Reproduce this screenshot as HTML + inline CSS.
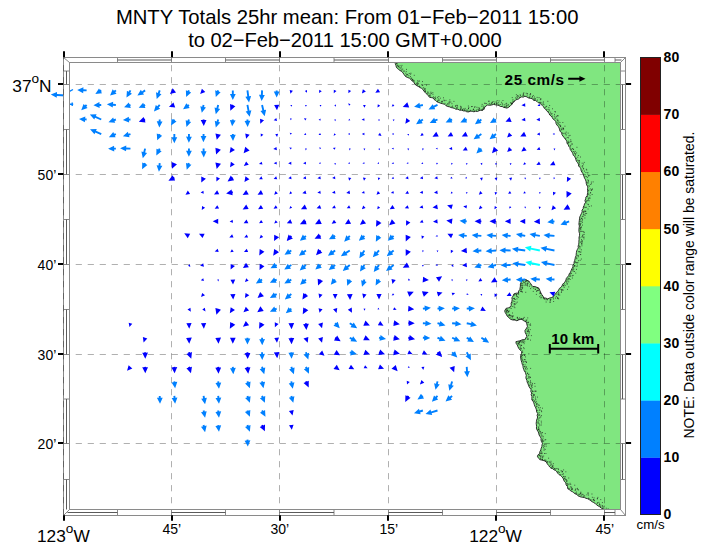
<!DOCTYPE html>
<html><head><meta charset="utf-8"><title>MNTY Totals</title>
<style>html,body{margin:0;padding:0;background:#fff;}body{width:703px;height:548px;overflow:hidden;}svg{display:block;}text{font-family:"Liberation Sans",sans-serif;fill:#000;}</style></head><body>
<svg width="703" height="548" viewBox="0 0 703 548">
<rect x="0" y="0" width="703" height="548" fill="#fff"/>
<defs><clipPath id="mapclip"><rect x="69.5" y="62.5" width="551.0" height="447.0"/></clipPath></defs>
<g clip-path="url(#mapclip)">
<path d="M394.6,62.0L395.3,63.6L395.9,65.3L396.3,67.0L397.4,68.5L398.7,69.5L400.0,70.5L401.7,71.5L403.0,72.9L403.9,74.3L404.8,75.7L406.1,76.8L407.8,77.6L409.5,78.2L410.9,79.5L412.2,81.0L413.9,82.1L414.8,84.0L416.3,85.4L418.1,86.3L419.7,87.4L421.5,88.3L423.1,89.6L424.0,91.4L425.5,92.8L427.0,94.2L428.3,95.7L429.5,97.3L431.2,97.6L432.9,97.8L434.0,99.4L435.6,100.5L436.9,101.8L438.9,102.5L440.8,103.3L442.8,103.8L444.6,104.3L446.1,105.8L447.9,106.5L449.7,106.9L451.2,107.6L452.9,107.9L454.4,108.4L455.8,109.2L457.8,109.2L459.7,110.2L461.7,110.2L463.4,110.9L465.2,110.9L466.8,111.8L468.7,111.9L470.4,111.2L472.1,111.2L473.9,111.8L475.6,111.2L477.4,111.5L479.1,110.7L480.8,110.2L482.6,110.5L483.8,109.3L484.5,107.7L485.8,106.1L487.6,105.0L489.6,105.3L491.6,105.0L493.6,104.4L495.4,104.8L497.2,105.1L498.9,105.5L500.5,106.5L502.2,106.5L503.7,107.4L505.3,107.7L506.9,108.1L508.8,107.2L510.4,105.7L511.8,104.5L512.7,102.7L514.2,101.6L515.5,100.3L516.9,99.4L518.7,98.9L520.0,97.6L521.5,96.9L523.3,97.1L524.9,96.2L526.9,96.9L528.7,98.0L530.8,98.4L532.5,98.8L533.6,100.4L535.4,100.5L536.9,101.4L538.2,102.7L539.8,103.2L541.1,104.4L542.4,105.5L543.5,106.7L544.3,108.3L545.7,109.3L546.6,110.7L547.8,111.9L549.0,113.3L549.7,115.0L551.2,116.1L552.3,117.6L553.2,119.2L554.8,120.2L555.8,121.7L556.1,123.6L557.0,125.1L558.3,126.5L559.2,128.1L559.6,129.8L560.2,131.5L561.7,132.6L561.9,134.5L562.9,136.0L564.0,137.4L565.0,138.8L566.2,140.1L566.9,141.7L567.0,143.5L568.4,144.7L568.8,146.4L569.9,147.6L570.2,149.4L571.1,150.8L572.1,152.1L572.8,153.6L573.3,155.3L574.7,156.5L575.4,158.1L575.9,159.7L576.5,161.4L577.6,162.7L578.5,164.2L578.6,166.0L579.9,167.3L580.8,168.7L581.1,170.5L581.8,172.0L582.8,173.4L583.5,175.0L584.0,176.7L584.6,178.3L585.6,179.9L586.1,181.7L586.3,183.6L586.9,185.4L587.9,186.9L587.6,188.6L587.5,190.4L587.8,192.2L587.4,193.9L587.2,195.7L585.9,197.1L585.7,198.8L585.0,200.5L585.5,202.4L584.5,203.9L584.1,205.5L583.3,207.0L583.2,208.7L582.0,210.1L582.2,211.9L581.4,213.5L580.6,215.2L579.8,216.9L579.5,218.8L579.3,220.6L579.1,222.4L578.9,224.2L579.4,226.0L579.1,227.8L578.9,229.8L579.0,231.8L579.6,233.7L579.5,235.7L579.0,237.5L579.1,239.3L578.9,241.1L578.9,242.9L578.6,244.7L578.1,246.2L578.3,247.9L577.4,249.4L576.7,250.9L576.4,252.5L576.2,254.1L576.1,255.7L575.4,257.2L575.1,258.8L574.7,260.4L574.1,262.0L574.0,263.8L572.9,265.2L573.0,267.0L572.0,268.5L571.2,270.3L570.6,272.1L569.3,273.7L568.7,275.5L567.6,276.9L566.4,278.3L565.9,280.1L565.1,281.8L563.8,283.0L562.6,284.3L562.0,286.0L561.0,287.4L559.4,288.4L558.7,289.9L557.8,291.4L556.3,292.5L555.4,294.3L553.9,295.4L552.9,297.0L551.2,297.7L549.3,298.1L547.7,298.9L545.9,298.1L543.8,297.9L542.9,296.0L541.6,294.3L540.7,292.5L540.0,290.9L539.4,289.2L538.4,287.8L536.6,287.2L534.8,286.5L532.9,286.5L531.6,285.2L530.9,283.7L529.7,282.5L528.8,281.1L527.1,280.3L525.4,279.5L523.7,280.0L521.9,280.6L521.1,282.3L520.4,284.1L520.4,286.1L520.1,287.9L519.8,289.7L518.5,291.1L518.6,293.0L516.1,293.2L513.9,293.9L513.1,296.0L511.9,297.8L512.2,299.8L511.8,301.6L511.1,303.3L511.3,305.2L510.4,306.9L508.3,307.9L506.0,308.4L504.7,310.9L505.2,312.5L506.2,314.1L507.0,315.8L508.2,317.1L509.5,318.4L510.9,319.4L512.9,320.0L515.0,320.0L516.9,320.8L518.5,320.0L520.1,319.4L521.9,319.4L523.8,320.8L526.0,321.7L526.6,323.4L527.1,325.0L527.4,326.7L526.2,328.7L524.9,330.7L525.3,332.8L526.3,334.7L526.8,336.7L525.6,338.0L525.0,339.8L523.1,339.6L521.5,340.1L519.9,340.8L517.9,341.2L515.9,341.7L516.2,343.5L517.3,345.0L517.9,346.7L518.9,348.6L520.3,350.2L521.8,351.7L521.5,353.4L520.8,355.2L520.6,357.0L520.8,358.8L521.2,360.6L521.8,362.4L522.2,364.2L523.0,365.9L523.1,367.6L523.7,369.3L524.3,370.9L525.3,372.3L525.8,373.9L526.3,375.5L525.9,377.2L526.1,378.7L526.9,380.3L527.1,381.9L527.8,383.5L528.5,385.1L529.1,386.8L530.1,388.2L531.1,389.7L530.8,391.5L531.7,393.1L531.1,394.8L531.9,396.4L531.9,398.1L531.8,399.8L533.0,401.2L533.8,402.8L534.3,404.6L534.9,406.3L535.8,407.9L536.4,409.8L536.7,411.9L537.8,413.7L537.1,415.2L537.6,417.0L537.2,418.6L536.6,420.1L536.4,421.7L536.2,423.3L536.4,424.9L536.6,426.5L536.4,428.1L536.9,429.7L537.9,431.3L538.7,433.0L539.1,435.0L540.1,436.6L541.1,438.1L541.0,440.0L541.5,441.7L542.5,443.2L542.0,444.9L541.9,446.6L541.2,448.2L540.8,449.9L539.9,451.6L539.6,453.6L537.9,454.9L537.5,456.9L538.7,458.1L539.7,459.6L541.4,460.0L543.1,460.4L544.8,461.0L546.4,462.1L547.3,463.9L548.6,465.3L549.7,467.0L551.0,468.2L552.7,468.7L554.0,469.8L555.6,470.5L556.8,471.8L557.8,473.3L559.0,474.6L560.6,475.5L561.9,476.7L563.0,478.1L563.7,479.9L564.4,481.5L565.8,482.7L566.1,484.9L567.5,486.6L567.8,488.8L569.3,489.5L570.6,490.9L572.3,491.6L573.7,492.7L575.1,493.8L576.9,494.4L578.1,495.9L579.8,496.6L581.3,497.1L582.9,497.3L584.5,497.6L586.0,498.3L587.6,498.7L589.2,499.6L590.6,500.6L592.1,501.7L593.7,502.6L595.3,503.5L596.5,504.8L598.0,505.8L599.6,506.7L601.4,508.2L603.6,509.1L604.9,511.1L621,511L621,62Z" fill="#80e680" stroke="none"/>
<path d="M394.6,62.0L395.3,63.6L395.9,65.3L396.3,67.0L397.4,68.5L398.7,69.5L400.0,70.5L401.7,71.5L403.0,72.9L403.9,74.3L404.8,75.7L406.1,76.8L407.8,77.6L409.5,78.2L410.9,79.5L412.2,81.0L413.9,82.1L414.8,84.0L416.3,85.4L418.1,86.3L419.7,87.4L421.5,88.3L423.1,89.6L424.0,91.4L425.5,92.8L427.0,94.2L428.3,95.7L429.5,97.3L431.2,97.6L432.9,97.8L434.0,99.4L435.6,100.5L436.9,101.8L438.9,102.5L440.8,103.3L442.8,103.8L444.6,104.3L446.1,105.8L447.9,106.5L449.7,106.9L451.2,107.6L452.9,107.9L454.4,108.4L455.8,109.2L457.8,109.2L459.7,110.2L461.7,110.2L463.4,110.9L465.2,110.9L466.8,111.8L468.7,111.9L470.4,111.2L472.1,111.2L473.9,111.8L475.6,111.2L477.4,111.5L479.1,110.7L480.8,110.2L482.6,110.5L483.8,109.3L484.5,107.7L485.8,106.1L487.6,105.0L489.6,105.3L491.6,105.0L493.6,104.4L495.4,104.8L497.2,105.1L498.9,105.5L500.5,106.5L502.2,106.5L503.7,107.4L505.3,107.7L506.9,108.1L508.8,107.2L510.4,105.7L511.8,104.5L512.7,102.7L514.2,101.6L515.5,100.3L516.9,99.4L518.7,98.9L520.0,97.6L521.5,96.9L523.3,97.1L524.9,96.2L526.9,96.9L528.7,98.0L530.8,98.4L532.5,98.8L533.6,100.4L535.4,100.5L536.9,101.4L538.2,102.7L539.8,103.2L541.1,104.4L542.4,105.5L543.5,106.7L544.3,108.3L545.7,109.3L546.6,110.7L547.8,111.9L549.0,113.3L549.7,115.0L551.2,116.1L552.3,117.6L553.2,119.2L554.8,120.2L555.8,121.7L556.1,123.6L557.0,125.1L558.3,126.5L559.2,128.1L559.6,129.8L560.2,131.5L561.7,132.6L561.9,134.5L562.9,136.0L564.0,137.4L565.0,138.8L566.2,140.1L566.9,141.7L567.0,143.5L568.4,144.7L568.8,146.4L569.9,147.6L570.2,149.4L571.1,150.8L572.1,152.1L572.8,153.6L573.3,155.3L574.7,156.5L575.4,158.1L575.9,159.7L576.5,161.4L577.6,162.7L578.5,164.2L578.6,166.0L579.9,167.3L580.8,168.7L581.1,170.5L581.8,172.0L582.8,173.4L583.5,175.0L584.0,176.7L584.6,178.3L585.6,179.9L586.1,181.7L586.3,183.6L586.9,185.4L587.9,186.9L587.6,188.6L587.5,190.4L587.8,192.2L587.4,193.9L587.2,195.7L585.9,197.1L585.7,198.8L585.0,200.5L585.5,202.4L584.5,203.9L584.1,205.5L583.3,207.0L583.2,208.7L582.0,210.1L582.2,211.9L581.4,213.5L580.6,215.2L579.8,216.9L579.5,218.8L579.3,220.6L579.1,222.4L578.9,224.2L579.4,226.0L579.1,227.8L578.9,229.8L579.0,231.8L579.6,233.7L579.5,235.7L579.0,237.5L579.1,239.3L578.9,241.1L578.9,242.9L578.6,244.7L578.1,246.2L578.3,247.9L577.4,249.4L576.7,250.9L576.4,252.5L576.2,254.1L576.1,255.7L575.4,257.2L575.1,258.8L574.7,260.4L574.1,262.0L574.0,263.8L572.9,265.2L573.0,267.0L572.0,268.5L571.2,270.3L570.6,272.1L569.3,273.7L568.7,275.5L567.6,276.9L566.4,278.3L565.9,280.1L565.1,281.8L563.8,283.0L562.6,284.3L562.0,286.0L561.0,287.4L559.4,288.4L558.7,289.9L557.8,291.4L556.3,292.5L555.4,294.3L553.9,295.4L552.9,297.0L551.2,297.7L549.3,298.1L547.7,298.9L545.9,298.1L543.8,297.9L542.9,296.0L541.6,294.3L540.7,292.5L540.0,290.9L539.4,289.2L538.4,287.8L536.6,287.2L534.8,286.5L532.9,286.5L531.6,285.2L530.9,283.7L529.7,282.5L528.8,281.1L527.1,280.3L525.4,279.5L523.7,280.0L521.9,280.6L521.1,282.3L520.4,284.1L520.4,286.1L520.1,287.9L519.8,289.7L518.5,291.1L518.6,293.0L516.1,293.2L513.9,293.9L513.1,296.0L511.9,297.8L512.2,299.8L511.8,301.6L511.1,303.3L511.3,305.2L510.4,306.9L508.3,307.9L506.0,308.4L504.7,310.9L505.2,312.5L506.2,314.1L507.0,315.8L508.2,317.1L509.5,318.4L510.9,319.4L512.9,320.0L515.0,320.0L516.9,320.8L518.5,320.0L520.1,319.4L521.9,319.4L523.8,320.8L526.0,321.7L526.6,323.4L527.1,325.0L527.4,326.7L526.2,328.7L524.9,330.7L525.3,332.8L526.3,334.7L526.8,336.7L525.6,338.0L525.0,339.8L523.1,339.6L521.5,340.1L519.9,340.8L517.9,341.2L515.9,341.7L516.2,343.5L517.3,345.0L517.9,346.7L518.9,348.6L520.3,350.2L521.8,351.7L521.5,353.4L520.8,355.2L520.6,357.0L520.8,358.8L521.2,360.6L521.8,362.4L522.2,364.2L523.0,365.9L523.1,367.6L523.7,369.3L524.3,370.9L525.3,372.3L525.8,373.9L526.3,375.5L525.9,377.2L526.1,378.7L526.9,380.3L527.1,381.9L527.8,383.5L528.5,385.1L529.1,386.8L530.1,388.2L531.1,389.7L530.8,391.5L531.7,393.1L531.1,394.8L531.9,396.4L531.9,398.1L531.8,399.8L533.0,401.2L533.8,402.8L534.3,404.6L534.9,406.3L535.8,407.9L536.4,409.8L536.7,411.9L537.8,413.7L537.1,415.2L537.6,417.0L537.2,418.6L536.6,420.1L536.4,421.7L536.2,423.3L536.4,424.9L536.6,426.5L536.4,428.1L536.9,429.7L537.9,431.3L538.7,433.0L539.1,435.0L540.1,436.6L541.1,438.1L541.0,440.0L541.5,441.7L542.5,443.2L542.0,444.9L541.9,446.6L541.2,448.2L540.8,449.9L539.9,451.6L539.6,453.6L537.9,454.9L537.5,456.9L538.7,458.1L539.7,459.6L541.4,460.0L543.1,460.4L544.8,461.0L546.4,462.1L547.3,463.9L548.6,465.3L549.7,467.0L551.0,468.2L552.7,468.7L554.0,469.8L555.6,470.5L556.8,471.8L557.8,473.3L559.0,474.6L560.6,475.5L561.9,476.7L563.0,478.1L563.7,479.9L564.4,481.5L565.8,482.7L566.1,484.9L567.5,486.6L567.8,488.8L569.3,489.5L570.6,490.9L572.3,491.6L573.7,492.7L575.1,493.8L576.9,494.4L578.1,495.9L579.8,496.6L581.3,497.1L582.9,497.3L584.5,497.6L586.0,498.3L587.6,498.7L589.2,499.6L590.6,500.6L592.1,501.7L593.7,502.6L595.3,503.5L596.5,504.8L598.0,505.8L599.6,506.7L601.4,508.2L603.6,509.1L604.9,511.1" fill="none" stroke="#1a1a1a" stroke-width="0.9" stroke-linejoin="round"/>
<path d="M395.9,62.5h0.9M396.6,64.1h0.9M396.6,63.2h0.9M396.1,63.5h0.9M397.1,65.8h0.9M397.5,65.4h0.9M399.6,65.7h0.9M397.9,66.7h0.9M401.5,65.4h0.9M398.1,66.4h0.9M398.8,67.1h0.9M399.6,67.9h0.9M401.1,66.9h0.9M400.5,68.2h0.9M401.5,70.0h0.9M400.7,70.1h0.9M402.3,69.1h0.9M403.5,71.4h0.9M403.6,70.9h0.9M406.1,69.4h0.9M405.8,71.6h0.9M405.3,73.2h0.9M406.3,74.3h0.9M405.6,75.8h0.9M406.6,74.8h0.9M407.2,74.6h0.9M408.8,73.5h0.9M408.4,75.7h0.9M410.2,74.2h0.9M410.5,73.2h0.9M410.0,76.6h0.9M410.8,78.2h0.9M411.3,78.3h0.9M413.8,75.3h0.9M411.8,79.6h0.9M411.9,79.7h0.9M412.2,79.7h0.9M413.0,80.3h0.9M414.0,81.0h0.9M412.6,80.8h0.9M417.3,82.7h0.9M417.1,80.9h0.9M415.9,83.3h0.9M417.2,83.9h0.9M416.7,83.2h0.9M418.7,80.8h0.9M418.5,81.4h0.9M416.8,85.0h0.9M418.1,83.8h0.9M419.3,86.6h0.9M419.1,86.2h0.9M422.0,81.6h0.9M422.3,85.4h0.9M422.1,85.0h0.9M421.2,84.8h0.9M423.8,88.4h0.9M426.1,85.1h0.9M422.9,87.7h0.9M424.7,90.2h0.9M424.9,88.8h0.9M424.2,89.4h0.9M424.9,91.6h0.9M424.6,91.3h0.9M424.7,91.0h0.9M427.4,93.4h0.9M427.5,92.6h0.9M427.4,91.9h0.9M430.4,92.2h0.9M431.1,93.3h0.9M428.7,94.0h0.9M428.8,95.6h0.9M429.3,95.7h0.9M432.4,92.7h0.9M430.2,94.0h0.9M430.0,96.0h0.9M432.5,94.3h0.9M433.0,96.9h0.9M434.7,98.6h0.9M435.1,97.1h0.9M433.8,97.6h0.9M437.2,97.4h0.9M435.2,98.8h0.9M438.4,96.5h0.9M438.1,100.3h0.9M439.9,98.2h0.9M437.8,98.9h0.9M437.1,101.2h0.9M437.1,101.1h0.9M438.9,100.1h0.9M443.0,97.8h0.9M441.7,101.2h0.9M441.3,101.8h0.9M441.7,101.7h0.9M441.5,102.0h0.9M443.5,100.1h0.9M445.5,100.4h0.9M444.5,103.4h0.9M443.9,100.7h0.9M449.3,101.8h0.9M447.1,104.0h0.9M446.2,105.0h0.9M447.7,103.7h0.9M449.4,99.9h0.9M448.5,102.2h0.9M448.5,104.9h0.9M448.9,103.1h0.9M450.4,102.1h0.9M451.5,103.7h0.9M453.5,101.4h0.9M452.1,106.1h0.9M451.4,106.8h0.9M455.1,106.3h0.9M455.3,105.7h0.9M456.8,105.6h0.9M456.5,105.3h0.9M456.3,108.3h0.9M457.0,107.0h0.9M456.3,107.7h0.9M460.0,109.2h0.9M460.2,106.3h0.9M460.1,109.0h0.9M460.5,107.2h0.9M460.8,108.3h0.9M460.7,107.1h0.9M462.3,109.7h0.9M462.1,109.4h0.9M463.3,108.8h0.9M464.7,108.4h0.9M464.3,109.7h0.9M464.4,110.3h0.9M466.9,110.1h0.9M466.2,110.2h0.9M468.4,107.4h0.9M467.9,111.2h0.9M467.9,106.0h0.9M468.1,108.5h0.9M469.6,110.9h0.9M468.1,108.7h0.9M469.9,110.3h0.9M471.8,106.5h0.9M471.0,106.6h0.9M474.6,106.8h0.9M473.0,109.3h0.9M472.7,110.0h0.9M474.1,110.9h0.9M473.2,109.3h0.9M474.1,107.2h0.9M476.1,110.1h0.9M476.5,107.3h0.9M477.5,109.3h0.9M478.7,110.0h0.9M478.4,109.9h0.9M478.5,107.6h0.9M479.2,108.9h0.9M478.8,108.6h0.9M481.4,106.2h0.9M481.9,109.5h0.9M481.5,109.7h0.9M482.5,108.8h0.9M483.5,109.0h0.9M483.0,107.4h0.9M483.5,108.6h0.9M484.0,107.2h0.9M482.8,106.1h0.9M481.7,104.4h0.9M484.7,103.4h0.9M484.3,103.2h0.9M485.9,103.6h0.9M488.5,101.1h0.9M488.8,103.4h0.9M488.4,101.4h0.9M490.9,103.3h0.9M489.6,104.3h0.9M491.2,103.9h0.9M492.0,102.7h0.9M492.6,101.5h0.9M491.5,102.4h0.9M494.5,102.0h0.9M493.9,103.7h0.9M494.2,103.5h0.9M496.3,103.1h0.9M496.7,100.6h0.9M496.5,103.6h0.9M497.8,102.7h0.9M498.6,100.9h0.9M498.3,104.6h0.9M502.5,100.5h0.9M499.8,104.5h0.9M501.8,103.7h0.9M501.9,104.9h0.9M501.2,102.3h0.9M503.9,106.9h0.9M503.8,104.8h0.9M505.5,103.9h0.9M504.5,106.6h0.9M505.8,106.7h0.9M505.5,107.2h0.9M506.3,105.8h0.9M505.8,105.2h0.9M506.2,103.3h0.9M508.9,106.4h0.9M507.8,104.7h0.9M507.5,105.3h0.9M511.1,103.7h0.9M510.4,102.8h0.9M511.2,103.8h0.9M511.7,103.7h0.9M511.7,103.6h0.9M510.4,102.8h0.9M513.2,101.8h0.9M512.4,102.3h0.9M512.4,101.1h0.9M512.5,99.7h0.9M514.0,100.8h0.9M511.8,97.6h0.9M515.8,98.7h0.9M515.3,97.8h0.9M517.0,97.2h0.9M518.1,96.2h0.9M517.2,95.5h0.9M516.5,96.7h0.9M515.9,94.7h0.9M519.0,97.3h0.9M520.1,95.7h0.9M519.7,94.8h0.9M523.4,92.8h0.9M522.9,93.7h0.9M523.0,94.3h0.9M522.8,95.4h0.9M523.6,96.2h0.9M522.5,95.2h0.9M527.1,93.6h0.9M526.7,95.1h0.9M525.8,93.3h0.9M528.6,97.4h0.9M529.6,94.6h0.9M530.2,94.1h0.9M529.6,96.1h0.9M529.0,97.2h0.9M530.0,93.7h0.9M532.8,95.5h0.9M531.6,97.7h0.9M532.1,96.5h0.9M536.7,97.4h0.9M534.6,98.9h0.9M533.6,98.6h0.9M535.1,99.0h0.9M533.9,97.0h0.9M533.7,99.6h0.9M538.6,97.6h0.9M537.0,100.1h0.9M539.9,99.7h0.9M540.6,99.0h0.9M540.0,98.9h0.9M540.1,102.4h0.9M539.1,102.4h0.9M542.9,101.9h0.9M540.8,102.9h0.9M542.7,103.1h0.9M542.5,104.3h0.9M547.4,101.3h0.9M543.5,104.7h0.9M549.2,105.5h0.9M544.7,107.5h0.9M546.2,106.3h0.9M545.6,106.6h0.9M548.4,107.7h0.9M546.4,109.4h0.9M547.8,109.7h0.9M549.1,110.0h0.9M548.2,111.6h0.9M552.0,108.8h0.9M550.2,112.2h0.9M554.4,111.6h0.9M555.0,111.9h0.9M551.6,113.7h0.9M550.5,114.0h0.9M550.7,114.0h0.9M553.9,116.2h0.9M552.0,116.1h0.9M554.1,114.4h0.9M557.3,115.5h0.9M554.6,118.0h0.9M557.6,115.9h0.9M555.8,116.8h0.9M556.5,116.2h0.9M554.7,118.2h0.9M557.0,120.4h0.9M556.6,119.2h0.9M557.7,120.3h0.9M558.3,121.9h0.9M556.8,122.1h0.9M557.9,123.9h0.9M559.5,122.5h0.9M557.4,123.2h0.9M559.5,125.1h0.9M558.7,124.8h0.9M562.4,122.5h0.9M560.0,126.5h0.9M559.9,125.8h0.9M560.3,126.1h0.9M560.7,128.2h0.9M562.9,128.2h0.9M562.4,128.1h0.9M562.5,129.6h0.9M560.5,130.2h0.9M561.1,129.4h0.9M564.5,126.2h0.9M563.2,129.0h0.9M562.9,128.5h0.9M562.2,133.1h0.9M564.7,133.1h0.9M565.3,134.0h0.9M565.8,132.1h0.9M563.4,133.6h0.9M567.7,133.1h0.9M565.8,135.0h0.9M565.3,138.4h0.9M568.5,135.8h0.9M569.6,135.4h0.9M566.8,137.5h0.9M568.0,137.8h0.9M567.8,141.2h0.9M570.3,139.8h0.9M568.0,142.4h0.9M567.6,143.0h0.9M570.4,141.8h0.9M568.8,142.2h0.9M567.5,143.3h0.9M570.5,141.3h0.9M571.6,144.2h0.9M570.3,145.3h0.9M569.9,146.2h0.9M571.6,143.9h0.9M576.5,147.3h0.9M572.0,148.5h0.9M572.8,149.4h0.9M571.0,149.3h0.9M572.9,151.5h0.9M573.1,149.3h0.9M573.9,152.2h0.9M574.8,151.4h0.9M575.1,154.2h0.9M574.0,153.3h0.9M576.2,152.9h0.9M575.0,153.9h0.9M574.8,155.8h0.9M577.9,155.5h0.9M577.3,157.2h0.9M580.0,157.0h0.9M576.0,158.3h0.9M578.8,160.5h0.9M577.2,160.2h0.9M578.5,160.7h0.9M578.5,161.2h0.9M578.6,162.8h0.9M579.2,162.1h0.9M579.1,164.2h0.9M583.1,164.0h0.9M582.3,165.6h0.9M583.8,162.4h0.9M579.4,166.1h0.9M581.7,163.2h0.9M581.7,166.3h0.9M582.3,167.2h0.9M582.9,168.9h0.9M583.2,168.6h0.9M581.7,170.8h0.9M586.3,170.0h0.9M585.9,169.3h0.9M584.1,171.1h0.9M587.4,172.5h0.9M585.5,172.5h0.9M584.7,176.3h0.9M587.3,174.1h0.9M588.2,175.3h0.9M586.1,176.7h0.9M588.2,176.0h0.9M589.3,175.3h0.9M587.0,177.3h0.9M588.1,180.7h0.9M587.4,179.9h0.9M587.9,181.2h0.9M587.9,182.9h0.9M586.6,182.3h0.9M586.8,183.1h0.9M591.0,183.8h0.9M590.9,182.1h0.9M592.7,181.9h0.9M589.0,186.1h0.9M587.6,185.7h0.9M589.9,184.4h0.9M589.8,188.9h0.9M592.1,189.0h0.9M588.4,190.1h0.9M591.4,189.4h0.9M590.8,190.5h0.9M591.2,190.0h0.9M588.0,190.7h0.9M590.0,192.8h0.9M590.2,192.8h0.9M588.5,194.1h0.9M589.6,195.7h0.9M587.9,194.1h0.9M591.7,194.5h0.9M587.0,196.6h0.9M589.5,198.3h0.9M587.9,198.1h0.9M588.3,198.8h0.9M589.3,197.8h0.9M586.3,200.7h0.9M588.7,200.8h0.9M586.3,201.6h0.9M587.3,200.4h0.9M587.9,200.0h0.9M587.4,204.2h0.9M588.0,204.7h0.9M585.7,203.0h0.9M588.8,206.5h0.9M590.9,205.9h0.9M585.9,207.3h0.9M587.6,209.0h0.9M584.1,207.1h0.9M584.9,207.4h0.9M586.2,213.5h0.9M585.3,211.3h0.9M583.9,211.3h0.9M583.1,211.4h0.9M585.2,211.6h0.9M584.6,211.0h0.9M583.2,212.8h0.9M583.3,212.8h0.9M585.0,213.7h0.9M583.5,214.9h0.9M583.3,214.5h0.9M584.6,215.4h0.9M581.9,216.4h0.9M584.4,218.0h0.9M582.7,216.3h0.9M581.5,218.3h0.9M581.3,218.4h0.9M580.8,218.4h0.9M580.3,219.6h0.9M581.8,220.8h0.9M582.0,219.6h0.9M580.6,221.5h0.9M581.9,222.4h0.9M579.7,221.0h0.9M579.5,223.7h0.9M579.6,224.1h0.9M580.5,223.3h0.9M582.0,225.1h0.9M579.8,224.9h0.9M580.0,225.0h0.9M580.5,227.4h0.9M580.2,227.3h0.9M581.1,227.0h0.9M579.5,228.4h0.9M580.5,229.0h0.9M580.0,228.9h0.9M581.0,231.3h0.9M579.7,230.0h0.9M582.3,231.4h0.9M579.9,231.6h0.9M583.9,232.3h0.9M583.1,231.9h0.9M582.2,235.5h0.9M583.7,234.4h0.9M582.6,234.7h0.9M583.5,237.1h0.9M582.1,236.8h0.9M581.4,236.9h0.9M579.5,237.7h0.9M583.5,238.9h0.9M583.3,237.3h0.9M581.1,239.6h0.9M581.8,241.2h0.9M581.6,240.7h0.9M580.2,242.2h0.9M581.7,242.1h0.9M580.8,241.8h0.9M581.4,244.2h0.9M581.4,243.4h0.9M581.2,243.8h0.9M579.1,246.1h0.9M581.5,245.8h0.9M579.6,246.9h0.9M579.4,246.9h0.9M580.9,249.8h0.9M579.5,248.8h0.9M580.5,252.0h0.9M579.0,251.6h0.9M579.7,252.2h0.9M578.0,251.7h0.9M579.8,254.5h0.9M580.3,254.6h0.9M577.2,255.3h0.9M578.0,255.8h0.9M580.9,259.0h0.9M577.7,256.8h0.9M576.4,258.7h0.9M576.1,257.9h0.9M578.0,260.7h0.9M579.7,260.3h0.9M576.2,262.6h0.9M576.6,262.9h0.9M574.7,262.3h0.9M577.4,262.6h0.9M575.1,262.0h0.9M574.3,266.2h0.9M574.5,265.7h0.9M574.1,265.7h0.9M576.8,265.1h0.9M574.0,265.8h0.9M576.5,266.5h0.9M573.3,269.2h0.9M576.1,269.4h0.9M573.0,267.9h0.9M572.4,270.3h0.9M572.3,269.4h0.9M574.0,271.5h0.9M575.3,273.1h0.9M572.7,271.3h0.9M572.7,275.4h0.9M570.3,273.6h0.9M571.0,273.3h0.9M569.6,274.1h0.9M571.9,275.8h0.9M570.3,275.9h0.9M569.3,276.2h0.9M571.9,278.0h0.9M569.6,276.2h0.9M568.1,278.3h0.9M569.7,279.5h0.9M568.9,278.6h0.9M567.8,279.8h0.9M566.5,280.2h0.9M567.3,279.0h0.9M566.6,281.8h0.9M566.0,282.0h0.9M568.3,281.8h0.9M566.7,283.5h0.9M566.7,284.3h0.9M568.3,286.9h0.9M564.7,285.6h0.9M564.2,284.1h0.9M563.0,285.5h0.9M562.8,285.1h0.9M563.3,286.0h0.9M567.0,289.4h0.9M563.7,287.4h0.9M562.1,289.9h0.9M561.2,289.9h0.9M560.5,289.4h0.9M561.3,289.9h0.9M562.7,290.1h0.9M560.9,292.5h0.9M561.0,291.2h0.9M559.3,295.1h0.9M557.9,294.0h0.9M558.2,292.3h0.9M558.4,294.0h0.9M556.5,294.2h0.9M558.1,294.9h0.9M557.2,297.5h0.9M557.3,298.4h0.9M555.9,296.6h0.9M557.4,298.3h0.9M558.2,298.8h0.9M555.0,298.1h0.9M552.7,297.7h0.9M553.2,301.5h0.9M553.0,298.9h0.9M549.8,299.3h0.9M549.9,300.0h0.9M550.4,299.6h0.9M549.6,302.3h0.9M549.8,300.7h0.9M549.7,302.1h0.9M546.6,299.4h0.9M545.7,302.0h0.9M546.9,299.8h0.9M543.9,299.1h0.9M545.5,299.7h0.9M543.9,298.6h0.9M542.8,297.6h0.9M543.0,298.2h0.9M540.5,297.9h0.9M539.3,296.7h0.9M540.8,297.3h0.9M540.5,295.6h0.9M539.9,293.3h0.9M539.9,293.2h0.9M539.4,293.3h0.9M539.8,292.5h0.9M535.9,294.4h0.9M538.2,290.0h0.9M537.7,290.5h0.9M536.3,290.9h0.9M536.2,291.3h0.9M537.1,290.4h0.9M537.6,288.4h0.9M537.7,288.3h0.9M535.7,287.8h0.9M534.9,289.5h0.9M532.8,291.4h0.9M533.6,287.0h0.9M534.8,289.2h0.9M533.3,288.3h0.9M531.5,287.0h0.9M530.2,288.6h0.9M527.1,285.9h0.9M528.9,286.3h0.9M529.6,284.8h0.9M526.5,285.5h0.9M526.9,284.3h0.9M528.5,281.7h0.9M527.4,283.4h0.9M527.2,280.9h0.9M527.4,283.0h0.9M526.2,281.1h0.9M525.2,281.1h0.9M525.8,280.1h0.9M525.7,280.8h0.9M525.3,283.9h0.9M524.9,281.7h0.9M523.7,282.5h0.9M523.6,285.2h0.9M524.6,283.0h0.9M522.5,281.3h0.9M526.6,284.0h0.9M523.2,282.0h0.9M522.3,283.6h0.9M521.2,283.4h0.9M525.0,285.0h0.9M521.5,284.8h0.9M522.1,285.7h0.9M520.9,285.4h0.9M522.2,287.3h0.9M521.7,287.8h0.9M521.3,287.1h0.9M520.4,289.6h0.9M522.0,288.7h0.9M521.1,289.3h0.9M520.8,291.0h0.9M520.9,291.3h0.9M521.9,292.0h0.9M521.5,291.7h0.9M525.3,292.3h0.9M520.1,291.3h0.9M517.7,293.7h0.9M516.3,294.7h0.9M517.9,297.3h0.9M518.2,294.2h0.9M516.0,294.6h0.9M516.1,296.2h0.9M514.6,294.6h0.9M517.1,296.7h0.9M513.9,295.0h0.9M516.1,295.0h0.9M513.8,298.4h0.9M514.8,299.5h0.9M513.7,298.4h0.9M512.9,298.5h0.9M516.5,298.9h0.9M514.0,299.1h0.9M516.8,302.1h0.9M514.3,301.5h0.9M512.9,301.1h0.9M515.7,303.1h0.9M513.7,303.6h0.9M511.8,302.8h0.9M514.2,304.0h0.9M514.8,304.2h0.9M513.7,304.9h0.9M513.6,306.8h0.9M514.4,307.7h0.9M511.8,306.5h0.9M509.5,307.9h0.9M510.7,308.5h0.9M512.0,313.0h0.9M508.9,311.0h0.9M507.1,310.0h0.9M508.0,311.5h0.9M508.1,312.0h0.9M507.2,310.4h0.9M505.9,310.6h0.9M505.9,309.6h0.9M506.1,311.7h0.9M507.0,310.7h0.9M505.9,311.2h0.9M507.5,311.1h0.9M507.3,312.7h0.9M506.1,312.8h0.9M508.8,314.5h0.9M508.9,314.9h0.9M507.4,315.2h0.9M508.0,315.8h0.9M509.1,315.6h0.9M509.6,315.2h0.9M510.7,316.1h0.9M510.4,315.5h0.9M509.7,317.3h0.9M511.6,318.0h0.9M511.7,316.3h0.9M512.5,316.0h0.9M512.6,316.0h0.9M512.8,319.3h0.9M512.1,316.9h0.9M513.8,319.5h0.9M514.4,319.4h0.9M513.5,319.5h0.9M516.9,318.1h0.9M516.9,317.8h0.9M516.9,317.3h0.9M518.0,319.2h0.9M517.7,319.2h0.9M519.7,318.8h0.9M519.2,317.9h0.9M521.2,318.6h0.9M521.8,319.0h0.9M521.3,319.0h0.9M523.1,318.3h0.9M522.8,319.1h0.9M523.8,317.4h0.9M526.1,320.9h0.9M526.4,319.9h0.9M525.5,320.3h0.9M527.3,317.9h0.9M527.7,322.5h0.9M528.1,322.2h0.9M526.8,322.4h0.9M530.0,324.0h0.9M527.5,324.1h0.9M529.3,324.9h0.9M530.2,325.3h0.9M528.4,327.8h0.9M529.8,329.6h0.9M526.7,328.7h0.9M527.8,329.8h0.9M527.7,331.3h0.9M526.7,331.0h0.9M527.7,330.9h0.9M528.8,331.9h0.9M527.1,331.6h0.9M528.1,330.0h0.9M528.7,333.2h0.9M528.6,331.8h0.9M526.5,333.3h0.9M530.9,335.6h0.9M527.8,335.7h0.9M528.4,335.0h0.9M527.8,338.9h0.9M526.6,337.8h0.9M527.4,339.3h0.9M530.0,340.1h0.9M527.3,339.1h0.9M523.2,342.5h0.9M524.3,341.8h0.9M523.7,343.7h0.9M522.2,341.0h0.9M523.0,341.0h0.9M521.5,342.7h0.9M520.7,341.1h0.9M518.7,342.2h0.9M518.4,342.3h0.9M519.4,341.6h0.9M518.4,343.7h0.9M516.9,343.2h0.9M521.7,341.9h0.9M519.1,342.3h0.9M519.2,342.3h0.9M518.0,343.7h0.9M519.9,341.7h0.9M518.4,343.6h0.9M518.6,344.7h0.9M521.1,345.3h0.9M519.7,345.0h0.9M519.7,347.7h0.9M521.2,345.4h0.9M520.2,346.1h0.9M520.6,348.3h0.9M520.7,348.8h0.9M520.3,349.0h0.9M523.2,347.7h0.9M523.7,348.7h0.9M522.2,351.0h0.9M522.2,352.5h0.9M528.4,353.9h0.9M524.0,355.3h0.9M524.3,355.3h0.9M523.7,354.7h0.9M521.4,355.5h0.9M521.1,356.5h0.9M522.2,355.5h0.9M521.4,358.5h0.9M525.0,356.9h0.9M521.5,357.4h0.9M521.7,360.0h0.9M522.2,360.0h0.9M523.9,359.5h0.9M524.6,359.5h0.9M522.6,361.3h0.9M524.6,361.2h0.9M526.1,361.9h0.9M523.1,362.1h0.9M524.8,361.7h0.9M526.0,362.5h0.9M523.0,364.4h0.9M524.6,364.8h0.9M525.7,366.6h0.9M524.4,366.8h0.9M524.1,366.6h0.9M525.1,368.4h0.9M525.8,367.4h0.9M526.9,368.8h0.9M525.5,369.3h0.9M530.2,368.4h0.9M525.3,371.3h0.9M527.0,373.5h0.9M527.0,373.0h0.9M528.4,374.2h0.9M528.2,374.8h0.9M529.4,376.7h0.9M528.3,376.7h0.9M528.0,377.9h0.9M530.0,377.5h0.9M529.2,377.9h0.9M526.7,378.5h0.9M530.0,380.8h0.9M528.0,381.5h0.9M528.4,382.8h0.9M530.0,382.1h0.9M530.5,382.8h0.9M529.9,384.2h0.9M532.0,383.4h0.9M531.6,384.6h0.9M530.8,385.7h0.9M529.0,385.3h0.9M534.3,383.5h0.9M531.0,386.7h0.9M531.6,385.4h0.9M530.7,388.4h0.9M534.6,386.3h0.9M531.8,387.3h0.9M535.4,390.9h0.9M535.4,391.5h0.9M534.4,391.2h0.9M532.7,391.4h0.9M532.0,391.2h0.9M531.9,391.2h0.9M533.9,394.9h0.9M533.2,394.4h0.9M532.2,393.3h0.9M533.0,395.9h0.9M532.7,395.3h0.9M533.8,395.1h0.9M535.1,397.0h0.9M532.9,397.3h0.9M532.3,399.8h0.9M535.4,399.8h0.9M532.6,399.7h0.9M537.1,397.1h0.9M535.1,398.9h0.9M535.7,401.5h0.9M533.8,400.9h0.9M533.9,401.2h0.9M535.1,402.6h0.9M536.3,403.2h0.9M536.6,403.9h0.9M538.1,405.0h0.9M536.2,404.7h0.9M536.5,404.0h0.9M536.2,406.7h0.9M538.9,405.3h0.9M536.5,406.2h0.9M539.8,407.6h0.9M542.0,408.2h0.9M538.1,407.7h0.9M537.3,410.4h0.9M541.0,410.9h0.9M539.4,409.3h0.9M538.7,412.7h0.9M541.2,411.7h0.9M539.4,410.5h0.9M540.4,416.8h0.9M538.6,415.3h0.9M540.9,415.5h0.9M538.3,415.0h0.9M539.2,414.8h0.9M538.7,418.1h0.9M539.5,417.7h0.9M540.8,421.2h0.9M537.7,419.1h0.9M538.5,420.4h0.9M537.6,421.7h0.9M537.7,423.3h0.9M537.6,422.6h0.9M540.9,422.9h0.9M538.8,424.0h0.9M539.4,425.2h0.9M540.8,425.0h0.9M538.0,427.7h0.9M538.4,426.8h0.9M538.4,428.8h0.9M537.6,429.3h0.9M538.5,429.3h0.9M538.1,429.5h0.9M538.7,430.4h0.9M539.8,431.5h0.9M539.4,431.3h0.9M539.7,432.6h0.9M541.9,432.5h0.9M541.4,432.9h0.9M539.7,433.8h0.9M541.2,434.1h0.9M540.7,436.0h0.9M541.6,435.8h0.9M544.8,433.6h0.9M542.7,436.4h0.9M542.2,439.6h0.9M542.6,438.1h0.9M543.3,440.9h0.9M541.9,440.5h0.9M542.4,441.3h0.9M544.6,439.9h0.9M542.4,441.5h0.9M545.3,439.6h0.9M545.6,444.3h0.9M544.3,444.6h0.9M543.3,445.4h0.9M545.7,446.2h0.9M543.8,446.4h0.9M543.0,447.3h0.9M544.8,449.4h0.9M543.7,448.9h0.9M543.6,450.2h0.9M544.0,453.5h0.9M545.5,453.5h0.9M541.2,451.2h0.9M540.2,453.4h0.9M541.6,453.6h0.9M541.4,452.6h0.9M540.1,456.3h0.9M541.5,456.0h0.9M539.2,454.9h0.9M539.2,455.5h0.9M542.3,457.6h0.9M538.7,455.8h0.9M540.4,455.9h0.9M540.9,453.6h0.9M543.2,456.1h0.9M542.1,456.9h0.9M540.0,458.6h0.9M541.6,459.4h0.9M540.4,457.7h0.9M542.0,459.5h0.9M541.8,459.1h0.9M544.5,460.3h0.9M544.4,460.0h0.9M548.2,458.2h0.9M545.5,460.3h0.9M546.5,461.5h0.9M547.5,461.8h0.9M549.0,461.9h0.9M546.9,462.2h0.9M549.7,462.7h0.9M550.6,463.1h0.9M550.5,461.3h0.9M550.7,464.4h0.9M551.8,465.3h0.9M550.2,465.3h0.9M552.7,465.9h0.9M551.4,467.6h0.9M551.6,466.9h0.9M552.0,466.5h0.9M552.9,463.7h0.9M552.8,467.7h0.9M554.4,469.0h0.9M554.1,468.5h0.9M556.4,468.5h0.9M555.2,469.0h0.9M558.1,469.6h0.9M557.7,468.7h0.9M558.0,471.9h0.9M557.3,471.8h0.9M558.9,472.5h0.9M563.2,469.9h0.9M562.0,471.5h0.9M560.7,470.7h0.9M560.4,474.5h0.9M561.6,471.3h0.9M561.7,472.1h0.9M562.3,474.4h0.9M565.4,471.8h0.9M562.9,473.8h0.9M563.1,476.4h0.9M563.6,476.7h0.9M564.8,476.5h0.9M563.9,478.7h0.9M564.5,478.7h0.9M564.5,477.9h0.9M565.8,479.5h0.9M565.2,479.7h0.9M568.3,478.0h0.9M566.4,480.9h0.9M566.1,481.1h0.9M566.5,481.0h0.9M569.6,483.3h0.9M567.4,483.6h0.9M566.4,483.3h0.9M568.5,484.5h0.9M567.2,485.1h0.9M567.1,485.1h0.9M568.4,488.4h0.9M571.2,487.1h0.9M570.0,486.9h0.9M569.3,488.9h0.9M570.3,484.4h0.9M571.7,488.5h0.9M571.2,488.0h0.9M571.8,489.1h0.9M571.3,489.7h0.9M574.3,485.2h0.9M571.5,489.5h0.9M574.7,490.4h0.9M575.1,489.7h0.9M575.5,488.8h0.9M575.1,493.1h0.9M577.3,489.6h0.9M576.0,492.1h0.9M577.1,488.4h0.9M578.1,489.9h0.9M576.3,493.6h0.9M580.3,493.0h0.9M578.3,494.3h0.9M580.0,493.9h0.9M579.8,493.5h0.9M580.4,492.2h0.9M579.1,494.7h0.9M581.3,494.2h0.9M580.7,495.6h0.9M582.8,495.1h0.9M582.3,494.4h0.9M583.4,496.5h0.9M584.2,495.8h0.9M587.6,493.4h0.9M586.5,494.8h0.9M588.1,495.0h0.9M587.6,492.8h0.9M588.6,498.5h0.9M588.0,498.2h0.9M591.5,494.0h0.9M590.6,500.0h0.9M591.9,497.3h0.9M590.2,499.8h0.9M593.0,499.6h0.9M592.7,499.8h0.9M593.6,497.9h0.9M593.7,500.8h0.9M593.3,499.9h0.9M594.0,500.3h0.9M597.0,498.6h0.9M596.8,498.8h0.9M597.4,497.4h0.9M600.3,499.6h0.9M596.7,503.5h0.9M597.0,502.7h0.9M599.0,504.3h0.9M598.4,502.4h0.9M599.0,504.0h0.9M601.9,502.6h0.9M600.3,505.1h0.9M599.0,505.1h0.9M601.8,505.9h0.9M600.2,506.6h0.9M602.2,505.9h0.9M602.6,506.8h0.9M603.9,506.2h0.9M603.5,508.0h0.9M602.3,508.0h0.9M604.5,509.4h0.9M607.7,508.8h0.9M605.8,508.2h0.9" fill="none" stroke="#1a1a1a" stroke-width="0.9" opacity="0.8"/>
</g>
<g stroke="#000" stroke-opacity="0.31" stroke-width="1" stroke-dasharray="6.2,5.8" stroke-dashoffset="-0.2" fill="none">
<line x1="171.5" y1="515.5" x2="171.5" y2="57.5"/>
<line x1="279.5" y1="515.5" x2="279.5" y2="57.5"/>
<line x1="388.5" y1="515.5" x2="388.5" y2="57.5"/>
<line x1="496.5" y1="515.5" x2="496.5" y2="57.5"/>
<line x1="604.5" y1="515.5" x2="604.5" y2="57.5"/>
<line x1="63.5" y1="84.5" x2="625.5" y2="84.5"/>
<line x1="63.5" y1="174.5" x2="625.5" y2="174.5"/>
<line x1="63.5" y1="264.5" x2="625.5" y2="264.5"/>
<line x1="63.5" y1="354.5" x2="625.5" y2="354.5"/>
<line x1="63.5" y1="443.5" x2="625.5" y2="443.5"/>
</g>
<path fill="#0000ff" stroke="none" d="M172.63,88.31L169.94,94.00L176.05,92.49ZM201.87,88.78L200.18,94.00L205.29,92.02ZM289.68,90.02L290.50,93.80L292.92,90.78ZM304.81,90.90L306.96,92.74L307.03,89.90ZM319.32,89.67L319.01,92.96L321.76,91.13ZM333.83,89.73L333.76,93.20L336.49,91.07ZM348.45,89.73L348.38,93.20L351.11,91.07ZM362.88,89.21L361.90,93.60L365.92,91.59ZM377.93,88.64L375.32,92.70L380.11,92.16ZM173.48,102.38L168.94,106.75L175.20,107.52ZM231.95,104.57L231.86,104.77L230.07,104.00L230.32,110.75L235.40,106.30L233.61,105.52L233.69,105.33ZM274.11,105.09L276.98,110.35L279.25,104.81ZM290.37,104.95L291.30,106.75L292.23,104.95ZM304.99,104.95L305.92,106.75L306.85,104.95ZM319.61,104.95L320.54,106.75L321.47,104.95ZM334.29,105.28L335.79,106.64L336.03,104.62ZM350.54,104.19L348.19,103.36L349.02,105.71ZM363.05,104.95L364.40,107.78L365.75,104.95ZM377.80,104.22L377.49,107.51L380.24,105.68ZM392.89,104.02L391.68,106.52L394.39,105.88ZM407.31,102.34L402.76,106.95L409.21,107.56ZM525.12,103.14L521.42,105.15L525.32,106.76ZM539.34,103.84L537.50,105.99L540.34,106.06ZM144.79,118.60L144.25,118.79L143.60,116.95L138.80,121.70L145.52,122.43L144.87,120.59L145.41,120.40ZM202.63,119.53L202.65,120.03L200.70,120.09L203.78,126.10L206.49,119.91L204.54,119.97L204.53,119.47ZM260.06,118.64L260.26,123.70L264.06,120.36ZM276.30,118.07L273.68,120.30L277.06,120.93ZM291.96,118.84L290.03,118.23L290.64,120.16ZM306.55,118.56L303.95,118.18L305.29,120.44ZM320.35,118.54L318.52,119.90L320.73,120.46ZM334.23,119.50L335.16,121.30L336.09,119.50ZM349.20,118.78L348.37,120.62L350.36,120.22ZM364.28,118.16L361.57,119.76L364.52,120.84ZM378.09,119.50L379.02,121.30L379.95,119.50ZM392.71,119.50L393.64,121.30L394.57,119.50ZM406.26,118.12L405.36,123.70L410.26,120.88ZM509.55,117.08L505.50,121.70L511.65,121.92ZM525.03,117.69L521.42,119.90L525.41,121.31ZM539.72,117.83L536.32,119.75L539.96,121.17ZM215.44,133.38L216.80,139.85L220.96,134.72ZM245.25,133.43L246.14,138.65L249.63,134.67ZM260.73,133.44L260.79,136.85L263.39,134.66ZM275.23,134.23L277.06,137.11L278.13,133.87ZM291.94,133.28L289.69,132.71L290.66,134.82ZM305.60,133.09L303.91,134.72L306.24,135.01ZM320.04,133.10L318.55,135.11L321.04,135.00ZM334.40,133.29L333.57,135.64L335.92,134.81ZM349.78,133.12L347.98,134.05L349.78,134.98ZM364.40,132.81L361.80,134.05L364.40,135.29ZM378.07,135.24L381.52,136.05L379.97,132.86ZM393.64,133.12L391.84,134.05L393.64,134.98ZM407.33,134.05L408.26,135.85L409.19,134.05ZM421.97,132.84L420.34,135.96L423.79,135.26ZM436.26,131.67L432.50,136.65L438.74,136.43ZM450.98,131.91L447.62,136.45L453.26,136.19ZM465.60,131.67L461.74,136.45L467.88,136.43ZM508.94,132.39L507.10,137.55L512.26,135.71ZM524.08,131.67L520.22,136.45L526.36,136.43ZM539.70,132.62L536.84,134.35L539.98,135.48ZM554.46,133.12L552.66,134.05L554.46,134.98ZM217.31,148.28L217.25,148.43L215.41,147.78L216.10,154.50L220.88,149.73L219.04,149.07L219.09,148.92ZM230.68,147.08L229.62,153.10L234.96,150.12ZM245.25,146.79L243.64,153.20L249.63,150.41ZM276.44,146.98L273.28,149.10L276.92,150.22ZM291.80,147.65L289.31,147.54L290.80,149.55ZM304.99,148.60L305.92,150.40L306.85,148.60ZM321.20,147.94L319.27,147.33L319.88,149.26ZM335.47,147.48L332.80,147.94L334.85,149.72ZM348.85,148.60L349.78,150.40L350.71,148.60ZM363.47,148.60L364.40,150.40L365.33,148.60ZM378.19,149.02L379.82,150.21L379.85,148.18ZM393.64,147.64L391.62,148.60L393.64,149.56ZM407.33,148.60L408.26,150.40L409.19,148.60ZM421.95,148.60L422.88,150.40L423.81,148.60ZM437.50,147.67L435.70,148.60L437.50,149.53ZM452.00,147.09L448.95,148.85L452.24,150.11ZM465.79,146.70L462.74,150.60L467.69,150.50ZM493.79,146.70L491.98,153.20L498.17,150.50ZM508.94,146.98L507.20,152.10L512.26,150.22ZM523.84,146.75L521.32,151.50L526.60,150.45ZM539.27,147.08L536.64,149.80L540.41,150.12ZM553.53,148.60L554.46,150.40L555.39,148.60ZM171.68,162.01L171.94,168.75L177.00,164.29ZM215.40,162.44L216.70,169.05L221.00,163.86ZM230.87,161.82L230.02,167.25L234.77,164.48ZM246.11,161.44L243.84,165.95L248.77,164.86ZM261.63,161.68L258.96,164.05L262.49,164.62ZM276.58,161.72L273.68,163.35L276.78,164.58ZM291.30,161.64L288.12,163.15L291.30,164.66ZM305.92,161.80L303.09,163.15L305.92,164.50ZM320.54,162.22L318.74,163.15L320.54,164.08ZM334.23,163.15L335.16,164.95L336.09,163.15ZM349.78,162.22L347.98,163.15L349.78,164.08ZM364.40,162.19L362.38,163.15L364.40,164.11ZM379.02,162.22L377.22,163.15L379.02,164.08ZM393.45,162.19L391.62,163.55L393.83,164.11ZM408.26,162.22L406.46,163.15L408.26,164.08ZM422.52,162.29L421.22,163.84L423.24,164.01ZM436.98,162.38L435.87,164.24L438.02,163.92ZM451.33,162.66L451.17,164.68L452.91,163.64ZM465.81,163.15L466.74,164.95L467.67,163.15ZM480.40,163.47L482.03,165.16L482.32,162.83ZM495.02,163.15L495.98,165.18L496.94,163.15ZM509.64,163.15L510.60,165.18L511.56,163.15ZM524.30,162.23L523.28,165.09L526.14,164.07ZM538.98,161.49L536.34,164.95L540.70,164.81ZM553.51,161.01L549.96,165.15L555.41,165.29ZM173.91,176.85L173.45,177.09L172.56,175.35L168.44,180.70L175.19,180.52L174.31,178.78L174.77,178.55ZM201.25,176.61L201.28,182.60L205.91,178.79ZM216.39,176.84L216.40,181.50L220.01,178.56ZM232.28,176.92L231.98,177.13L230.86,175.53L227.52,181.40L234.18,180.29L233.07,178.69L233.36,178.48ZM245.44,176.27L244.44,181.90L249.44,179.13ZM261.35,176.27L259.06,179.20L262.77,179.13ZM276.11,176.27L273.68,178.90L277.25,179.13ZM291.06,176.27L288.30,178.20L291.54,179.13ZM305.68,176.27L302.92,178.20L306.16,179.13ZM320.30,176.18L317.34,178.20L320.78,179.22ZM335.02,176.27L332.16,178.00L335.30,179.13ZM348.27,177.40L349.15,180.87L351.29,178.00ZM362.89,177.52L364.02,180.87L365.91,177.88ZM377.79,177.39L378.37,180.29L380.25,178.01ZM393.14,176.75L391.65,178.76L394.14,178.65ZM408.02,176.27L405.26,178.20L408.50,179.13ZM422.64,176.27L419.88,178.20L423.12,179.13ZM437.20,176.19L434.33,178.33L437.80,179.21ZM451.80,176.74L450.11,178.37L452.44,178.66ZM466.47,176.81L465.02,178.22L467.01,178.59ZM479.93,177.94L481.86,180.70L482.79,177.46ZM494.55,177.94L496.48,180.70L497.41,177.46ZM509.09,177.88L510.98,180.87L512.11,177.52ZM524.29,177.70L525.22,179.50L526.15,177.70ZM538.91,177.70L539.84,179.50L540.77,177.70ZM553.63,177.28L553.66,179.31L555.29,178.12ZM567.08,176.65L566.88,181.90L571.08,178.75ZM187.82,190.59L185.46,194.65L190.10,193.91ZM203.44,190.82L200.58,192.55L203.72,193.68ZM217.15,190.25L214.00,194.45L219.25,194.25ZM232.64,191.32L231.93,191.46L231.56,189.54L226.12,193.55L232.66,195.23L232.29,193.32L233.00,193.18ZM246.11,189.97L242.64,195.05L248.77,194.53ZM260.92,190.11L257.56,194.65L263.20,194.39ZM275.49,191.06L274.17,194.76L277.87,193.44ZM290.38,191.33L289.36,194.19L292.22,193.17ZM305.44,190.54L302.32,193.25L306.40,193.96ZM320.30,190.73L317.34,192.75L320.78,193.77ZM334.92,190.73L331.96,192.75L335.40,193.77ZM349.48,190.58L346.26,192.88L350.08,193.92ZM364.10,190.91L361.58,192.89L364.70,193.59ZM377.83,191.06L376.51,194.76L380.21,193.44ZM393.34,190.91L390.82,192.89L393.94,193.59ZM407.55,190.82L405.26,193.75L408.97,193.68ZM422.64,190.73L419.68,192.75L423.12,193.77ZM437.26,190.59L434.00,192.75L437.74,193.91ZM451.35,191.61L450.78,193.86L452.89,192.89ZM465.81,192.25L466.74,194.05L467.67,192.25ZM480.17,191.06L478.85,194.76L482.55,193.44ZM494.64,191.95L495.34,195.07L497.32,192.55ZM509.87,191.03L508.04,193.78L511.33,193.47ZM524.59,191.31L523.25,193.57L525.85,193.19ZM538.91,192.25L539.84,194.05L540.77,192.25ZM552.96,191.65L553.20,195.40L555.96,192.85ZM566.47,191.06L566.58,197.75L571.69,193.44ZM202.06,205.94L201.78,210.00L205.10,207.66ZM217.25,205.14L214.70,208.80L219.15,208.46ZM246.20,204.52L242.64,209.40L248.68,209.08ZM260.87,204.90L258.06,209.30L263.25,208.70ZM275.79,205.31L273.55,208.68L277.57,208.29ZM290.38,205.88L289.36,208.74L292.22,207.72ZM304.78,204.42L300.92,209.20L307.06,209.18ZM319.83,204.90L316.54,208.30L321.25,208.70ZM334.45,205.28L331.96,208.30L335.87,208.32ZM349.07,205.37L346.78,208.30L350.49,208.23ZM363.21,205.61L361.89,209.31L365.59,207.99ZM377.83,205.94L377.22,209.30L380.21,207.66ZM392.45,204.90L389.64,209.30L394.83,208.70ZM407.55,205.14L404.76,208.30L408.97,208.46ZM422.50,205.14L419.38,207.60L423.26,208.46ZM437.12,204.42L432.50,207.60L437.88,209.18ZM452.83,204.42L447.12,205.30L451.41,209.18ZM467.03,205.14L463.24,206.20L466.45,208.46ZM480.17,205.61L478.85,209.31L482.55,207.99ZM494.76,206.07L494.45,209.36L497.20,207.53ZM509.84,206.04L509.01,208.39L511.36,207.56ZM524.29,206.80L525.22,208.60L526.15,206.80ZM538.72,206.49L539.18,209.16L540.96,207.11ZM552.80,205.37L551.46,210.30L556.12,208.23ZM568.63,205.97L568.48,206.05L567.55,204.33L563.58,209.80L570.32,209.42L569.39,207.71L569.53,207.63ZM218.20,218.74L212.70,221.35L218.20,223.96ZM232.58,219.83L229.62,221.85L233.06,222.87ZM246.49,219.54L243.64,223.35L248.39,223.16ZM261.11,219.92L259.06,223.35L263.01,222.78ZM275.63,220.16L274.18,223.55L277.73,222.54ZM290.35,219.21L286.80,223.35L292.25,223.49ZM305.52,220.49L305.05,220.71L304.22,218.94L299.92,224.15L306.67,224.20L305.85,222.43L306.32,222.21ZM320.11,220.50L320.05,220.54L319.16,218.80L315.04,224.15L321.79,223.97L320.91,222.23L320.97,222.20ZM333.97,219.69L331.66,223.85L336.35,223.01ZM348.45,219.07L344.98,224.15L351.11,223.63ZM362.74,219.21L359.90,224.85L366.06,223.49ZM378.19,220.90L378.11,221.04L376.40,220.11L376.02,226.85L381.49,222.88L379.77,221.95L379.85,221.80ZM391.83,219.21L389.14,225.15L395.45,223.49ZM406.12,220.30L406.06,225.85L410.40,222.40ZM422.28,219.85L419.73,222.61L423.48,222.85ZM437.26,219.21L433.00,221.85L437.74,223.49ZM452.50,218.59L446.32,220.55L451.74,224.11ZM481.36,220.40L480.66,220.40L480.66,218.45L474.56,221.35L480.66,224.25L480.66,222.30L481.36,222.30ZM495.98,220.40L495.58,220.40L495.58,218.45L489.48,221.35L495.58,224.25L495.58,222.30L495.98,222.30ZM510.60,218.59L504.80,221.35L510.60,224.11ZM525.22,218.74L519.72,221.35L525.22,223.96ZM539.70,218.50L533.84,221.65L539.98,224.20ZM190.20,233.67L184.26,233.30L187.72,238.13ZM204.63,233.71L198.98,233.70L202.53,238.09ZM232.11,234.24L229.32,237.40L233.53,237.56ZM246.73,234.38L244.24,237.40L248.15,237.42ZM260.87,234.71L259.56,238.40L263.25,237.09ZM274.21,234.66L274.08,241.10L279.15,237.14ZM290.59,235.27L290.03,235.90L288.57,234.61L286.70,241.10L292.91,238.45L291.45,237.16L292.01,236.53ZM320.14,235.04L319.67,235.26L318.84,233.49L314.54,238.70L321.29,238.75L320.47,236.98L320.94,236.76ZM405.65,234.71L405.76,241.40L410.87,237.09ZM421.45,235.42L421.88,238.90L424.31,236.38ZM437.31,234.94L435.48,236.30L437.69,236.86ZM453.17,233.67L447.42,233.70L451.07,238.13ZM217.72,248.79L214.70,251.45L218.68,252.11ZM231.91,249.24L230.28,252.36L233.73,251.66ZM246.73,248.79L243.94,251.95L248.15,252.11ZM259.68,249.12L259.26,255.45L264.44,251.78ZM275.89,249.92L275.80,250.06L274.18,248.97L273.18,255.65L278.99,252.21L277.37,251.12L277.47,250.98ZM319.85,249.80L319.52,250.15L318.10,248.82L316.04,255.25L322.33,252.78L320.91,251.45L321.23,251.10ZM405.65,249.26L405.76,255.95L410.87,251.64ZM421.95,250.45L422.88,252.25L423.81,250.45ZM436.57,250.45L437.50,252.25L438.43,250.45ZM450.79,249.84L450.85,253.25L453.45,251.06ZM466.50,247.69L460.94,250.95L466.98,253.21ZM188.02,265.63L190.28,266.97L189.90,264.37ZM203.20,263.34L200.08,265.80L203.96,266.66ZM230.68,263.95L230.62,269.50L234.96,266.05ZM246.01,262.86L242.94,268.00L248.87,267.14ZM259.68,263.81L259.56,270.00L264.44,266.19ZM407.83,264.15L407.77,264.19L406.88,262.45L402.76,267.80L409.51,267.62L408.63,265.88L408.69,265.85ZM421.95,265.00L422.88,266.80L423.81,265.00ZM437.37,264.04L435.48,265.27L437.63,265.96ZM451.18,265.63L453.44,266.97L453.06,264.37ZM466.50,262.86L462.24,265.50L466.98,267.14ZM203.28,278.21L200.76,280.19L203.88,280.89ZM217.24,279.55L218.20,281.57L219.16,279.55ZM230.44,279.65L233.02,284.55L235.20,279.45ZM246.25,278.36L244.94,282.05L248.63,280.74ZM319.66,279.18L319.51,279.55L317.71,278.80L318.04,285.55L323.06,281.03L321.26,280.28L321.42,279.92ZM391.50,278.98L392.44,284.05L395.78,280.12ZM407.94,280.51L410.27,280.22L408.58,278.59ZM422.64,282.40L428.88,280.05L423.12,276.70ZM439.02,281.74L442.10,276.35L435.98,277.36ZM451.19,279.55L452.12,281.35L453.05,279.55ZM465.81,279.55L466.74,281.35L467.67,279.55ZM480.41,278.12L478.36,281.55L482.31,280.98ZM494.55,277.17L490.98,282.55L497.41,281.93ZM202.15,292.91L201.08,297.10L205.01,295.29ZM230.21,294.29L233.22,299.60L235.43,293.91ZM245.54,292.91L244.94,298.10L249.34,295.29ZM260.16,291.96L257.56,298.10L263.96,296.24ZM305.12,293.59L304.89,293.94L303.25,292.90L302.42,299.60L308.14,296.01L306.50,294.96L306.72,294.61ZM318.54,293.53L319.34,298.30L322.54,294.67ZM332.78,294.10L335.16,299.10L337.54,294.10ZM346.93,294.24L350.08,300.10L352.63,293.96ZM362.26,293.62L363.40,298.60L366.54,294.58ZM376.41,294.10L379.02,299.60L381.63,294.10ZM393.01,293.16L391.67,295.42L394.27,295.04ZM409.35,296.71L413.76,291.80L407.17,291.49ZM423.19,295.00L423.22,294.99L423.86,296.83L428.68,292.10L421.97,291.35L422.60,293.19L422.57,293.20ZM438.21,296.48L442.50,292.60L436.79,291.72ZM452.60,295.53L455.12,293.10L451.64,292.67ZM466.55,295.06L468.76,294.50L466.93,293.14ZM480.43,294.10L481.36,295.90L482.29,294.10ZM494.48,293.50L494.72,297.25L497.48,294.70ZM509.65,292.20L506.60,296.10L511.55,296.00ZM555.32,291.72L549.46,292.30L553.60,296.48ZM187.47,309.54L190.84,311.78L190.45,307.76ZM202.26,309.55L205.47,311.43L204.90,307.75ZM217.29,308.38L217.24,308.53L215.38,307.97L216.40,314.65L220.93,309.64L219.06,309.08L219.11,308.92ZM230.68,307.22L229.82,313.15L234.96,310.08ZM245.78,306.75L243.44,312.15L249.10,310.55ZM260.40,306.37L257.26,312.15L263.72,310.93ZM305.10,308.17L304.97,308.40L303.28,307.42L302.72,314.15L308.29,310.34L306.61,309.36L306.74,309.13ZM318.54,308.17L319.54,312.85L322.54,309.13ZM333.07,309.32L336.56,313.05L337.25,307.98ZM347.78,309.70L351.98,312.85L351.78,307.60ZM363.44,308.84L364.80,310.67L365.36,308.46ZM378.75,307.76L377.30,309.17L379.29,309.54ZM393.16,310.08L396.64,309.65L394.12,307.22ZM408.02,311.50L414.26,309.15L408.50,305.80ZM480.27,310.79L485.86,310.95L482.45,306.51ZM128.67,322.72L129.48,327.00L132.29,323.68ZM186.35,323.34L189.26,328.70L191.57,323.06ZM200.97,323.34L203.88,328.70L206.19,323.06ZM231.99,322.75L231.91,322.89L230.20,321.96L229.82,328.70L235.29,324.73L233.57,323.80L233.65,323.65ZM245.78,321.06L242.94,326.70L249.10,325.34ZM261.23,322.75L261.15,322.89L259.44,321.96L259.06,328.70L264.53,324.73L262.81,323.80L262.89,323.65ZM274.78,322.34L274.88,327.20L278.58,324.06ZM288.45,323.34L291.60,329.20L294.15,323.06ZM304.97,323.27L305.03,323.99L303.08,324.13L306.42,330.00L308.86,323.70L306.92,323.85L306.87,323.13ZM318.16,323.91L322.04,328.20L322.92,322.49ZM363.31,325.81L369.90,325.50L365.49,320.59ZM377.83,325.34L383.52,325.70L380.21,321.06ZM393.49,324.14L393.67,324.17L393.36,326.09L399.84,324.20L394.28,320.37L393.97,322.29L393.79,322.26ZM408.26,324.15L408.66,324.15L408.66,326.10L414.76,323.20L408.66,320.30L408.66,322.25L408.26,322.25ZM142.87,337.04L143.60,342.45L147.33,338.46ZM186.11,337.89L189.26,343.75L191.81,337.61ZM215.35,337.89L218.50,343.75L221.05,337.61ZM229.97,337.75L232.82,343.75L235.67,337.75ZM274.30,337.89L276.98,342.75L279.06,337.61ZM290.35,337.79L290.37,338.20L288.42,338.29L291.60,344.25L294.22,338.02L292.27,338.11L292.25,337.71ZM303.50,338.61L307.72,342.85L308.34,336.89ZM318.16,338.46L322.04,342.75L322.92,337.04ZM334.64,338.54L335.04,338.80L333.97,340.44L340.66,341.35L337.14,335.58L336.08,337.21L335.68,336.96ZM363.21,340.36L369.90,340.25L365.59,335.14ZM393.42,338.67L393.69,338.74L393.23,340.63L399.84,339.25L394.59,335.00L394.13,336.89L393.86,336.83ZM408.06,338.68L408.90,338.86L408.48,340.77L415.06,339.25L409.73,335.10L409.31,337.01L408.46,336.82ZM144.15,352.33L144.16,352.73L142.21,352.79L145.30,358.80L148.01,352.61L146.06,352.67L146.05,352.27ZM188.06,352.62L188.33,353.37L186.49,354.02L191.26,358.80L191.96,352.08L190.12,352.73L189.86,351.98ZM246.49,352.34L246.52,353.05L244.57,353.13L247.74,359.10L250.37,352.88L248.42,352.96L248.39,352.26ZM273.83,352.54L277.18,358.30L279.53,352.06ZM318.88,354.20L324.54,355.80L322.20,350.40ZM333.73,354.68L340.16,355.30L336.59,349.92ZM363.45,354.91L369.90,354.30L365.35,349.69ZM378.72,353.20L378.93,353.27L378.32,355.12L385.02,354.30L380.15,349.62L379.53,351.47L379.32,351.40ZM393.42,353.22L393.69,353.29L393.23,355.18L399.84,353.80L394.59,349.55L394.13,351.44L393.86,351.38ZM407.40,354.30L412.46,354.10L409.12,350.30ZM421.83,354.44L427.38,354.50L423.93,350.16ZM436.83,352.97L437.31,353.46L435.94,354.84L442.30,357.10L440.04,350.74L438.66,352.11L438.17,351.63ZM128.63,365.23L127.08,370.75L132.33,368.47ZM144.15,366.88L144.16,367.28L142.21,367.34L145.30,373.35L148.01,367.16L146.06,367.22L146.05,366.82ZM173.39,366.89L173.41,367.30L171.46,367.39L174.64,373.35L177.26,367.12L175.31,367.21L175.29,366.81ZM188.05,367.13L188.26,367.80L186.39,368.37L190.96,373.35L191.94,366.67L190.07,367.24L189.87,366.57ZM217.25,366.89L217.28,367.60L215.33,367.68L218.50,373.65L221.13,367.43L219.18,367.51L219.15,366.81ZM246.50,366.96L246.58,367.70L244.65,367.93L248.24,373.65L250.41,367.25L248.47,367.48L248.38,366.74ZM333.50,368.99L339.66,370.35L336.82,364.71ZM348.59,368.99L354.28,369.35L350.97,364.71ZM363.69,368.37L367.60,368.35L365.11,365.33ZM378.07,369.23L384.02,368.85L379.97,364.47ZM391.50,368.75L397.64,371.35L395.78,364.95ZM407.77,367.64L409.79,367.80L408.75,366.06ZM421.37,367.03L423.26,370.02L424.39,366.67ZM449.51,367.80L454.12,372.35L454.73,365.90ZM305.06,381.80L305.28,382.27L303.51,383.10L308.72,387.40L308.77,380.65L307.00,381.47L306.78,381.00ZM406.76,380.80L407.00,384.55L409.76,382.00ZM421.45,379.97L419.88,384.40L424.31,382.83ZM407.41,395.53L407.14,396.07L405.39,395.20L405.26,401.95L410.58,397.79L408.84,396.92L409.11,396.37ZM288.92,411.07L292.50,415.50L293.68,409.93ZM261.19,425.44L261.51,426.16L259.73,426.95L264.86,431.35L265.03,424.60L263.25,425.39L262.93,424.66ZM289.02,425.29L291.80,429.85L293.58,424.81Z"/>
<path fill="#0080ff" stroke="none" d="M86.66,89.45L83.35,89.31L83.44,87.36L77.22,90.00L83.19,93.16L83.27,91.21L86.58,91.35ZM100.74,89.60L100.00,90.05L98.97,88.40L95.34,94.10L102.05,93.32L101.01,91.66L101.74,91.20ZM115.23,89.69L113.97,90.82L112.67,89.37L110.06,95.60L116.54,93.69L115.24,92.24L116.49,91.11ZM129.65,89.94L128.61,91.81L126.91,90.86L126.48,97.60L131.98,93.68L130.27,92.73L131.31,90.86ZM144.57,89.61L141.92,91.40L140.83,89.78L137.40,95.60L144.08,94.59L142.99,92.97L145.63,91.19ZM158.82,90.09L157.83,92.93L155.99,92.29L156.72,99.00L161.47,94.20L159.63,93.55L160.62,90.71ZM188.09,90.03L187.67,91.01L185.87,90.25L186.16,97.00L191.21,92.52L189.42,91.76L189.83,90.77ZM217.31,90.08L216.99,90.94L215.16,90.28L215.80,97.00L220.61,92.26L218.78,91.59L219.09,90.72ZM231.87,90.40L231.87,93.90L229.92,93.90L232.82,100.00L235.72,93.90L233.77,93.90L233.77,90.40ZM246.50,90.53L247.29,96.48L245.36,96.74L249.04,102.40L251.11,95.97L249.18,96.23L248.38,90.27ZM261.11,90.36L260.94,94.87L258.99,94.79L261.66,101.00L264.79,95.01L262.84,94.94L263.01,90.44ZM275.73,90.40L275.73,91.50L273.78,91.50L276.68,97.60L279.58,91.50L277.63,91.50L277.63,90.40ZM85.95,104.27L84.91,105.30L83.54,103.91L81.22,110.25L87.60,108.05L86.24,106.66L87.29,105.63ZM101.20,104.00L99.50,104.07L99.42,102.12L93.44,105.25L99.65,107.91L99.57,105.96L101.28,105.90ZM115.93,104.00L113.02,103.78L113.17,101.83L106.86,104.25L112.72,107.61L112.87,105.67L115.79,105.90ZM130.15,104.06L129.46,104.32L128.77,102.49L124.08,107.35L130.81,107.92L130.13,106.10L130.81,105.84ZM144.72,104.08L143.91,104.43L143.13,102.65L138.70,107.75L145.45,107.96L144.67,106.18L145.48,105.82ZM159.01,104.32L157.27,106.27L155.82,104.97L153.92,111.45L160.15,108.83L158.69,107.53L160.43,105.58ZM188.41,104.18L187.48,104.84L186.35,103.25L183.06,109.15L189.71,107.97L188.58,106.39L189.51,105.72ZM202.65,104.74L202.21,106.69L200.31,106.26L201.78,112.85L205.96,107.55L204.06,107.11L204.51,105.16ZM217.28,104.71L216.40,108.11L214.52,107.62L215.80,114.25L220.13,109.07L218.24,108.58L219.12,105.19ZM246.51,105.12L247.60,111.02L245.68,111.38L249.64,116.85L251.38,110.32L249.47,110.68L248.37,104.78ZM261.13,105.16L262.37,110.52L260.47,110.96L264.66,116.25L266.12,109.66L264.22,110.09L262.99,104.74ZM422.68,104.02L419.84,104.63L419.43,102.73L414.08,106.85L420.65,108.40L420.24,106.49L423.08,105.88ZM437.08,104.10L433.53,105.87L432.66,104.13L428.50,109.45L435.25,109.32L434.38,107.57L437.92,105.80ZM86.69,118.55L85.18,118.43L85.33,116.49L79.02,118.90L84.87,122.27L85.03,120.33L86.55,120.45ZM101.62,118.63L95.81,116.08L96.59,114.29L89.84,114.50L94.26,119.61L95.04,117.82L100.86,120.37ZM115.52,118.61L113.83,119.25L113.14,117.43L108.46,122.30L115.19,122.85L114.50,121.03L116.20,120.39ZM130.43,118.55L128.92,118.63L128.82,116.68L122.88,119.90L129.12,122.48L129.02,120.53L130.53,120.45ZM158.77,119.45L158.68,121.36L156.73,121.26L159.32,127.50L162.52,121.55L160.57,121.46L160.67,119.55ZM173.51,119.04L173.15,119.70L171.44,118.76L171.04,125.50L176.52,121.55L174.81,120.61L175.17,119.96ZM188.06,119.20L187.51,120.82L185.66,120.19L186.46,126.90L191.16,122.05L189.31,121.42L189.86,119.80ZM217.29,119.23L216.64,121.38L214.78,120.82L215.80,127.50L220.33,122.49L218.46,121.93L219.11,119.77ZM231.87,119.40L231.80,120.13L229.86,119.94L232.12,126.30L235.63,120.53L233.69,120.33L233.77,119.60ZM246.49,119.53L246.53,120.83L244.58,120.88L247.64,126.90L250.37,120.72L248.42,120.78L248.39,119.47ZM422.33,118.72L420.52,120.01L419.39,118.41L416.08,124.30L422.74,123.15L421.61,121.56L423.43,120.28ZM437.12,118.63L434.91,119.59L434.13,117.80L429.70,122.90L436.45,123.12L435.67,121.33L437.88,120.37ZM451.72,118.64L450.76,119.08L449.94,117.31L445.62,122.50L452.37,122.58L451.56,120.81L452.52,120.36ZM466.34,118.64L465.46,119.05L464.63,117.29L460.34,122.50L467.09,122.54L466.27,120.77L467.14,120.36ZM480.79,118.74L479.27,119.88L478.10,118.32L474.96,124.30L481.58,122.96L480.41,121.40L481.93,120.26ZM495.49,118.69L494.72,119.15L493.72,117.47L489.98,123.10L496.70,122.45L495.70,120.78L496.47,120.31ZM101.62,133.18L96.01,130.72L96.79,128.94L90.04,129.15L94.47,134.25L95.25,132.47L100.86,134.92ZM115.48,133.18L114.05,133.81L113.26,132.03L108.86,137.15L115.61,137.33L114.82,135.55L116.24,134.92ZM130.20,133.14L128.44,133.67L127.88,131.81L122.88,136.35L129.56,137.36L128.99,135.49L130.76,134.96ZM158.84,133.70L158.59,134.33L156.77,133.61L157.22,140.35L162.17,135.75L160.35,135.03L160.60,134.40ZM173.39,134.05L173.39,137.25L171.44,137.25L174.34,143.35L177.24,137.25L175.29,137.25L175.29,134.05ZM188.01,134.04L187.98,136.64L186.03,136.62L188.86,142.75L191.83,136.68L189.88,136.66L189.91,134.06ZM202.63,134.03L202.58,136.03L200.63,135.98L203.38,142.15L206.43,136.12L204.48,136.08L204.53,134.07ZM231.87,134.08L231.89,134.88L229.94,134.94L233.02,140.95L235.74,134.77L233.79,134.83L233.77,134.02ZM480.83,133.26L478.07,135.14L476.98,133.52L473.56,139.35L480.24,138.32L479.14,136.71L481.89,134.84ZM495.37,133.32L493.67,134.73L492.43,133.23L489.58,139.35L496.13,137.69L494.88,136.19L496.59,134.78ZM115.84,147.65L114.13,147.69L114.08,145.74L108.06,148.80L114.23,151.54L114.18,149.59L115.88,149.55ZM130.52,147.65L126.21,147.49L126.29,145.54L120.08,148.20L126.06,151.33L126.14,149.38L130.44,149.55ZM144.18,148.38L143.30,152.05L141.40,151.59L142.80,158.20L147.04,152.94L145.15,152.49L146.02,148.82ZM158.87,148.18L158.20,149.52L156.45,148.65L156.32,155.40L161.64,151.24L159.90,150.37L160.57,149.02ZM188.01,148.59L187.98,150.69L186.03,150.67L188.86,156.80L191.83,150.74L189.88,150.71L189.91,148.61ZM202.63,148.62L202.69,151.32L200.74,151.37L203.78,157.40L206.54,151.24L204.59,151.28L204.53,148.58ZM480.70,147.91L480.10,148.49L478.75,147.08L476.36,153.40L482.77,151.27L481.42,149.86L482.02,149.29ZM144.25,162.73L143.98,163.27L142.23,162.40L142.10,169.15L147.42,164.99L145.68,164.12L145.95,163.57ZM158.77,163.06L158.55,165.49L156.60,165.31L158.92,171.65L162.38,165.85L160.44,165.67L160.67,163.24ZM188.06,162.85L187.82,163.57L185.97,162.94L186.76,169.65L191.46,164.80L189.62,164.18L189.86,163.45ZM466.81,220.40L465.69,220.32L465.83,218.38L459.54,220.85L465.42,224.17L465.56,222.22L466.67,222.30ZM554.34,220.41L553.20,220.55L552.95,218.62L547.26,222.25L553.67,224.37L553.43,222.44L554.58,222.29ZM568.72,220.47L565.77,221.67L565.04,219.86L560.48,224.85L567.22,225.24L566.49,223.43L569.44,222.23ZM305.33,235.16L304.09,236.15L302.87,234.62L299.92,240.70L306.49,239.15L305.28,237.63L306.51,236.64ZM334.70,235.07L333.85,235.53L332.91,233.82L328.96,239.30L335.70,238.91L334.77,237.20L335.62,236.73ZM349.10,235.24L347.73,236.65L346.33,235.30L344.18,241.70L350.50,239.33L349.10,237.97L350.46,236.56ZM363.78,235.18L362.81,236.01L361.54,234.53L358.80,240.70L365.32,238.93L364.05,237.45L365.02,236.62ZM378.19,235.44L377.93,235.90L376.23,234.96L375.82,241.70L381.31,237.76L379.60,236.82L379.85,236.36ZM393.04,235.16L391.87,236.11L390.64,234.60L387.74,240.70L394.30,239.10L393.07,237.59L394.24,236.64ZM466.83,234.95L464.30,234.72L464.48,232.78L458.14,235.10L463.95,238.55L464.13,236.61L466.65,236.85ZM481.44,234.95L477.82,234.65L477.98,232.71L471.66,235.10L477.50,238.49L477.66,236.55L481.28,236.85ZM496.06,234.95L492.54,234.66L492.70,232.72L486.38,235.10L492.22,238.50L492.38,236.55L495.90,236.85ZM510.68,234.95L507.76,234.69L507.93,232.75L501.60,235.10L507.42,238.53L507.59,236.59L510.52,236.85ZM525.40,234.97L522.09,234.33L522.46,232.41L515.92,234.10L521.36,238.11L521.73,236.19L525.04,236.83ZM540.00,234.96L535.61,234.20L535.95,232.28L529.44,234.10L534.96,238.00L535.29,236.08L539.68,236.84ZM554.53,234.95L549.61,234.59L549.75,232.65L543.46,235.10L549.33,238.43L549.48,236.49L554.39,236.85ZM290.79,249.65L289.15,250.69L288.11,249.04L284.50,254.75L291.21,253.94L290.16,252.29L291.81,251.25ZM305.35,249.69L303.21,251.31L302.03,249.76L298.92,255.75L305.53,254.38L304.36,252.83L306.49,251.21ZM334.60,249.68L332.31,251.37L331.15,249.80L327.96,255.75L334.59,254.47L333.44,252.90L335.72,251.22ZM349.27,249.65L345.50,252.06L344.45,250.42L340.88,256.15L347.58,255.30L346.53,253.66L350.29,251.25ZM363.60,249.93L361.93,252.52L360.29,251.45L359.40,258.15L365.15,254.61L363.52,253.55L365.20,250.97ZM378.31,249.82L376.19,252.18L374.74,250.87L372.82,257.35L379.05,254.75L377.60,253.45L379.73,251.08ZM393.03,249.72L390.84,251.53L389.60,250.03L386.74,256.15L393.29,254.50L392.05,253.00L394.25,251.18ZM481.26,249.50L478.43,249.79L478.24,247.85L472.46,251.35L478.82,253.62L478.62,251.68L481.46,251.40ZM495.90,249.50L491.58,249.88L491.41,247.93L485.58,251.35L491.91,253.71L491.74,251.77L496.06,251.40ZM510.63,249.50L505.52,249.36L505.58,247.41L499.40,250.15L505.42,253.21L505.47,251.26L510.57,251.40ZM525.34,249.51L518.09,248.58L518.34,246.65L511.92,248.75L517.60,252.40L517.85,250.47L525.10,251.39ZM554.64,249.52L546.63,247.97L547.00,246.06L540.46,247.75L545.90,251.75L546.27,249.84L554.28,251.38ZM276.24,264.16L275.46,264.56L274.57,262.83L270.48,268.20L277.23,267.98L276.34,266.25L277.12,265.84ZM290.78,264.21L288.88,265.46L287.81,263.83L284.30,269.60L290.99,268.67L289.92,267.04L291.82,265.79ZM305.30,264.28L303.70,265.68L302.42,264.21L299.72,270.40L306.22,268.58L304.94,267.11L306.54,265.72ZM319.91,264.29L319.28,264.85L317.99,263.39L315.34,269.60L321.83,267.73L320.54,266.27L321.17,265.71ZM334.58,264.25L332.98,265.50L331.78,263.96L328.76,270.00L335.35,268.53L334.15,266.99L335.74,265.75ZM349.16,264.28L346.79,266.31L345.52,264.83L342.78,271.00L349.30,269.23L348.03,267.75L350.40,265.72ZM363.61,264.47L362.59,266.00L360.97,264.92L360.00,271.60L365.80,268.13L364.17,267.05L365.19,265.53ZM378.26,264.43L376.64,266.56L375.09,265.39L373.72,272.00L379.71,268.89L378.16,267.71L379.78,265.57ZM393.05,264.25L390.24,266.47L389.03,264.94L386.04,271.00L392.62,269.50L391.42,267.97L394.23,265.75ZM481.03,264.11L479.75,264.59L479.07,262.76L474.36,267.60L481.09,268.19L480.41,266.37L481.69,265.89ZM495.74,264.08L493.24,264.74L492.75,262.85L487.58,267.20L494.22,268.46L493.72,266.57L496.22,265.92ZM510.58,264.05L506.68,264.13L506.64,262.18L500.60,265.20L506.76,267.98L506.72,266.03L510.62,265.95ZM525.35,264.06L518.49,263.10L518.76,261.17L512.32,263.20L517.96,266.92L518.23,264.98L525.09,265.94ZM554.67,264.07L547.12,262.40L547.54,260.49L540.96,262.00L546.29,266.15L546.71,264.25L554.25,265.93ZM261.55,278.75L260.52,279.40L259.48,277.75L255.86,283.45L262.57,282.66L261.53,281.01L262.57,280.35ZM276.27,278.70L274.95,279.33L274.10,277.58L269.88,282.85L276.63,282.80L275.78,281.04L277.09,280.40ZM290.84,278.72L289.17,279.65L288.22,277.95L284.30,283.45L291.04,283.01L290.09,281.31L291.76,280.38ZM305.28,278.85L303.98,280.03L302.67,278.59L300.12,284.85L306.58,282.88L305.26,281.44L306.56,280.25ZM334.43,278.94L333.93,279.55L332.43,278.30L330.76,284.85L336.89,282.01L335.39,280.76L335.89,280.16ZM348.90,279.19L348.63,279.85L346.83,279.11L347.18,285.85L352.19,281.32L350.39,280.57L350.66,279.91ZM363.50,279.25L363.00,280.76L361.15,280.15L362.00,286.85L366.66,281.96L364.81,281.35L365.30,279.85ZM378.20,279.08L377.84,279.69L376.15,278.72L375.62,285.45L381.18,281.61L379.49,280.64L379.84,280.02ZM510.52,278.60L507.81,278.82L507.65,276.88L501.80,280.25L508.11,282.66L507.96,280.71L510.68,280.50ZM525.19,278.60L521.89,278.71L521.82,276.76L515.82,279.85L522.01,282.55L521.95,280.60L525.25,280.50ZM539.91,278.60L536.39,278.35L536.53,276.40L530.24,278.85L536.11,282.19L536.25,280.24L539.77,280.50ZM554.54,278.60L551.82,278.39L551.97,276.44L545.66,278.85L551.51,282.22L551.67,280.28L554.38,280.50ZM276.22,293.27L274.74,294.09L273.79,292.39L269.88,297.90L276.62,297.46L275.67,295.75L277.14,294.93ZM290.69,293.37L288.88,294.87L287.64,293.37L284.80,299.50L291.35,297.83L290.10,296.33L291.91,294.83ZM276.29,307.79L275.04,308.36L274.23,306.58L269.88,311.75L276.63,311.86L275.82,310.08L277.07,309.51ZM290.68,307.93L289.82,308.66L288.55,307.18L285.80,313.35L292.32,311.59L291.05,310.11L291.92,309.37ZM422.99,309.59L424.92,309.38L425.14,311.31L430.88,307.75L424.49,305.55L424.71,307.49L422.77,307.71ZM437.56,309.60L438.88,309.51L439.01,311.45L444.90,308.15L438.62,305.67L438.75,307.61L437.44,307.70ZM452.18,309.60L453.89,309.49L454.02,311.43L459.92,308.15L453.65,305.65L453.77,307.59L452.06,307.70ZM466.80,309.60L468.91,309.47L469.03,311.42L474.94,308.15L468.67,305.63L468.79,307.57L466.68,307.70ZM334.46,323.84L334.93,324.35L333.50,325.67L339.76,328.20L337.76,321.75L336.33,323.07L335.86,322.56ZM349.25,323.99L351.59,325.57L350.50,327.19L357.18,328.20L353.75,322.38L352.66,324.00L350.31,322.41ZM422.81,324.15L425.33,324.32L425.19,326.27L431.48,323.80L425.60,320.48L425.46,322.43L422.95,322.25ZM437.25,324.12L439.37,324.70L438.85,326.58L445.50,325.40L440.39,320.99L439.87,322.87L437.75,322.28ZM452.02,324.14L455.35,324.50L455.15,326.44L461.52,324.20L455.76,320.67L455.55,322.61L452.22,322.26ZM466.54,324.13L470.78,325.04L470.37,326.95L476.94,325.40L471.59,321.28L471.18,323.19L466.94,322.27ZM246.49,337.75L246.49,338.45L244.54,338.45L247.44,344.55L250.34,338.45L248.39,338.45L248.39,337.75ZM261.11,337.78L261.15,339.18L259.20,339.23L262.26,345.25L265.00,339.07L263.05,339.13L263.01,337.72ZM349.34,338.59L351.34,339.65L350.43,341.37L357.18,341.65L353.14,336.24L352.23,337.97L350.22,336.91ZM378.85,338.68L379.85,338.87L379.49,340.79L386.02,339.05L380.55,335.08L380.20,337.00L379.19,336.82ZM422.84,338.70L424.15,338.75L424.07,340.70L430.28,338.05L424.30,334.91L424.22,336.85L422.92,336.80ZM437.18,338.64L439.44,339.46L438.78,341.30L445.50,340.65L440.75,335.84L440.09,337.68L437.82,336.86ZM451.75,338.62L454.34,339.73L453.57,341.52L460.32,341.25L455.85,336.19L455.08,337.98L452.49,336.88ZM466.25,338.57L468.22,339.74L467.22,341.41L473.94,342.05L470.19,336.43L469.19,338.11L467.23,336.93ZM480.85,338.55L483.49,340.21L482.45,341.86L489.16,342.65L485.54,336.95L484.50,338.60L481.87,336.95ZM261.11,352.32L261.15,353.93L259.20,353.98L262.26,360.00L265.00,353.83L263.05,353.88L263.01,352.28ZM290.35,352.34L290.37,352.65L288.42,352.74L291.60,358.70L294.21,352.47L292.26,352.56L292.25,352.26ZM305.02,352.60L305.49,354.01L303.64,354.63L308.32,359.50L309.14,352.80L307.29,353.41L306.82,352.00ZM349.56,353.22L350.63,353.48L350.17,355.38L356.78,354.00L351.54,349.74L351.08,351.64L350.00,351.38ZM451.45,352.97L452.33,353.86L450.96,355.24L457.32,357.50L455.06,351.14L453.68,352.51L452.79,351.63ZM465.90,352.74L467.26,355.34L465.54,356.25L470.94,360.30L470.67,353.55L468.95,354.46L467.58,351.86ZM231.87,366.91L231.96,368.13L230.01,368.26L233.32,374.15L235.80,367.87L233.85,368.00L233.77,366.79ZM261.15,367.12L261.59,368.58L259.72,369.15L264.26,374.15L265.28,367.47L263.41,368.04L262.97,366.58ZM290.41,367.17L290.96,368.72L289.12,369.38L293.90,374.15L294.59,367.43L292.75,368.08L292.19,366.53ZM305.05,367.23L305.62,368.53L303.83,369.31L308.92,373.75L309.15,367.00L307.36,367.78L306.79,366.47ZM465.79,366.90L466.04,371.31L464.10,371.43L467.34,377.35L469.89,371.09L467.94,371.21L467.69,366.80ZM173.40,381.51L173.48,382.25L171.55,382.48L175.14,388.20L177.31,381.80L175.37,382.03L175.28,381.29ZM217.26,381.50L217.40,382.84L215.46,383.05L219.00,388.80L221.23,382.42L219.29,382.63L219.14,381.30ZM246.54,381.72L246.91,382.76L245.08,383.41L249.84,388.20L250.54,381.48L248.71,382.13L248.34,381.08ZM261.13,381.59L261.30,382.42L259.39,382.81L263.46,388.20L265.07,381.64L263.16,382.03L262.99,381.21ZM290.37,381.59L290.66,383.01L288.75,383.40L292.80,388.80L294.43,382.25L292.52,382.63L292.23,381.21ZM436.58,381.18L435.99,383.65L434.09,383.19L435.50,389.80L439.73,384.54L437.84,384.09L438.42,381.62ZM451.21,381.13L450.15,384.68L448.28,384.13L449.32,390.80L453.84,385.78L451.97,385.23L453.03,381.67ZM158.77,395.99L158.84,397.79L156.89,397.86L160.02,403.85L162.69,397.64L160.74,397.72L160.67,395.91ZM173.39,396.05L173.58,397.88L171.64,398.07L175.14,403.85L177.41,397.49L175.47,397.69L175.29,395.85ZM202.65,396.12L203.06,398.42L201.14,398.76L205.08,404.25L206.85,397.73L204.93,398.08L204.51,395.78ZM217.25,396.05L217.44,397.88L215.50,398.07L219.00,403.85L221.27,397.49L219.33,397.69L219.15,395.85ZM246.54,396.26L246.94,397.40L245.10,398.04L249.84,402.85L250.58,396.14L248.73,396.78L248.34,395.64ZM261.18,396.31L261.69,397.55L259.88,398.29L264.86,402.85L265.25,396.11L263.45,396.84L262.94,395.59ZM290.39,396.21L290.69,397.26L288.82,397.80L293.30,402.85L294.39,396.18L292.51,396.73L292.21,395.69ZM422.37,395.15L422.02,395.37L420.97,393.73L417.38,399.45L424.08,398.62L423.04,396.98L423.39,396.75ZM436.81,395.30L435.41,396.77L434.00,395.43L431.90,401.85L438.20,399.42L436.79,398.08L438.19,396.60ZM451.51,395.22L449.60,396.82L448.35,395.32L445.52,401.45L452.06,399.77L450.81,398.27L452.73,396.68ZM202.65,410.69L202.91,411.92L201.00,412.32L205.08,417.70L206.67,411.14L204.77,411.53L204.51,410.31ZM217.26,410.60L217.38,411.74L215.44,411.96L219.00,417.70L221.21,411.32L219.27,411.53L219.14,410.40ZM246.55,410.84L246.75,411.35L244.93,412.06L249.84,416.70L250.34,409.96L248.52,410.67L248.33,410.16ZM261.23,410.96L261.69,411.81L259.98,412.75L265.46,416.70L265.07,409.96L263.36,410.89L262.89,410.04ZM422.59,409.59L419.51,410.56L418.93,408.70L413.98,413.30L420.67,414.24L420.08,412.38L423.17,411.41ZM437.23,409.59L431.07,411.44L430.51,409.57L425.50,414.10L432.18,415.12L431.62,413.26L437.77,411.41ZM202.65,425.25L202.89,426.38L200.98,426.78L205.08,432.15L206.66,425.58L204.75,425.99L204.51,424.85ZM217.26,425.16L217.33,425.81L215.40,426.04L219.00,431.75L221.16,425.35L219.22,425.58L219.14,424.94ZM246.55,425.37L246.89,426.33L245.05,426.99L249.84,431.75L250.51,425.03L248.68,425.69L248.33,424.73ZM246.49,439.65L246.54,440.56L244.60,440.68L247.84,446.60L250.39,440.34L248.44,440.46L248.39,439.55ZM66.06,94.55L56.95,94.01L57.06,92.07L50.80,94.60L56.72,97.86L56.83,95.91L65.94,96.45Z"/>
<path fill="#00ffff" stroke="none" d="M540.03,249.52L531.01,247.65L531.40,245.74L524.84,247.35L530.23,251.42L530.62,249.51L539.65,251.38ZM540.03,264.07L531.51,262.31L531.90,260.40L525.34,262.00L530.73,266.08L531.12,264.17L539.65,265.93Z"/>
<text x="504.6" y="84.8" font-size="15.3" letter-spacing="0.55" font-weight="bold" id="leg">25 cm/s</text>
<path fill="#000" d="M568.20,79.75L579.40,79.75L579.40,81.70L585.50,78.80L579.40,75.90L579.40,77.85L568.20,77.85Z"/>
<text x="551.2" y="344.4" font-size="15" letter-spacing="0.15" font-weight="bold" id="km">10 km</text>
<path d="M549.3,348.7H598.7M549.8,344V353.4M598.2,344V353.4" stroke="#000" stroke-width="2" fill="none"/>
<path d="M69.5,91.3L73,89.5M69.5,104.3H73.2M72.2,102.4V106" stroke="#0080ff" stroke-width="1.4" fill="none"/>
<g fill="#fff" stroke="none">
<rect x="63.5" y="57.5" width="562.0" height="5.0"/>
<rect x="63.5" y="509.5" width="562.0" height="6.0"/>
<rect x="63.5" y="57.5" width="6.0" height="458.0"/>
<rect x="620.5" y="57.5" width="5.0" height="458.0"/>
</g>
<g stroke="#8a8a8a" stroke-width="1" fill="none">
<rect x="63.5" y="57.5" width="562.0" height="458.0"/>
<rect x="69.5" y="62.5" width="551.0" height="447.0"/>
<line x1="63.5" y1="57.5" x2="69.5" y2="62.5"/>
<line x1="625.5" y1="57.5" x2="620.5" y2="62.5"/>
<line x1="63.5" y1="515.5" x2="69.5" y2="509.5"/>
<line x1="625.5" y1="515.5" x2="620.5" y2="509.5"/>
<line x1="117.5" y1="57.5" x2="117.5" y2="62.5"/>
<line x1="117.5" y1="509.5" x2="117.5" y2="515.5"/>
<line x1="171.5" y1="57.5" x2="171.5" y2="62.5"/>
<line x1="171.5" y1="509.5" x2="171.5" y2="515.5"/>
<line x1="225.5" y1="57.5" x2="225.5" y2="62.5"/>
<line x1="225.5" y1="509.5" x2="225.5" y2="515.5"/>
<line x1="279.5" y1="57.5" x2="279.5" y2="62.5"/>
<line x1="279.5" y1="509.5" x2="279.5" y2="515.5"/>
<line x1="334.0" y1="57.5" x2="334.0" y2="62.5"/>
<line x1="334.0" y1="509.5" x2="334.0" y2="515.5"/>
<line x1="388.5" y1="57.5" x2="388.5" y2="62.5"/>
<line x1="388.5" y1="509.5" x2="388.5" y2="515.5"/>
<line x1="442.5" y1="57.5" x2="442.5" y2="62.5"/>
<line x1="442.5" y1="509.5" x2="442.5" y2="515.5"/>
<line x1="496.5" y1="57.5" x2="496.5" y2="62.5"/>
<line x1="496.5" y1="509.5" x2="496.5" y2="515.5"/>
<line x1="550.5" y1="57.5" x2="550.5" y2="62.5"/>
<line x1="550.5" y1="509.5" x2="550.5" y2="515.5"/>
<line x1="604.5" y1="57.5" x2="604.5" y2="62.5"/>
<line x1="604.5" y1="509.5" x2="604.5" y2="515.5"/>
<line x1="615" y1="57.5" x2="615" y2="62.5"/>
<line x1="615" y1="509.5" x2="615" y2="515.5"/>
<line x1="63.5" y1="71.0" x2="69.5" y2="71.0"/>
<line x1="620.5" y1="71.0" x2="625.5" y2="71.0"/>
<line x1="63.5" y1="84.5" x2="69.5" y2="84.5"/>
<line x1="620.5" y1="84.5" x2="625.5" y2="84.5"/>
<line x1="63.5" y1="129.5" x2="69.5" y2="129.5"/>
<line x1="620.5" y1="129.5" x2="625.5" y2="129.5"/>
<line x1="63.5" y1="174.5" x2="69.5" y2="174.5"/>
<line x1="620.5" y1="174.5" x2="625.5" y2="174.5"/>
<line x1="63.5" y1="219.5" x2="69.5" y2="219.5"/>
<line x1="620.5" y1="219.5" x2="625.5" y2="219.5"/>
<line x1="63.5" y1="264.5" x2="69.5" y2="264.5"/>
<line x1="620.5" y1="264.5" x2="625.5" y2="264.5"/>
<line x1="63.5" y1="309.5" x2="69.5" y2="309.5"/>
<line x1="620.5" y1="309.5" x2="625.5" y2="309.5"/>
<line x1="63.5" y1="354.5" x2="69.5" y2="354.5"/>
<line x1="620.5" y1="354.5" x2="625.5" y2="354.5"/>
<line x1="63.5" y1="399.0" x2="69.5" y2="399.0"/>
<line x1="620.5" y1="399.0" x2="625.5" y2="399.0"/>
<line x1="63.5" y1="443.5" x2="69.5" y2="443.5"/>
<line x1="620.5" y1="443.5" x2="625.5" y2="443.5"/>
<line x1="63.5" y1="479.5" x2="69.5" y2="479.5"/>
<line x1="620.5" y1="479.5" x2="625.5" y2="479.5"/>
</g>
<g stroke="#5a5a5a" stroke-width="1" fill="none">
<line x1="67.5" y1="512.5" x2="117.5" y2="512.5"/>
<line x1="117.5" y1="60.0" x2="171.5" y2="60.0"/>
<line x1="171.5" y1="512.5" x2="225.5" y2="512.5"/>
<line x1="225.5" y1="60.0" x2="279.5" y2="60.0"/>
<line x1="279.5" y1="512.5" x2="334.0" y2="512.5"/>
<line x1="334.0" y1="60.0" x2="388.5" y2="60.0"/>
<line x1="388.5" y1="512.5" x2="442.5" y2="512.5"/>
<line x1="442.5" y1="60.0" x2="496.5" y2="60.0"/>
<line x1="496.5" y1="512.5" x2="550.5" y2="512.5"/>
<line x1="550.5" y1="60.0" x2="604.5" y2="60.0"/>
<line x1="615" y1="60.0" x2="621.5" y2="60.0"/>
<line x1="604" y1="512.5" x2="615" y2="512.5"/>
<line x1="66.5" y1="71.0" x2="66.5" y2="84.5"/>
<line x1="622.5" y1="84.5" x2="622.5" y2="129.5"/>
<line x1="66.5" y1="129.5" x2="66.5" y2="174.5"/>
<line x1="622.5" y1="174.5" x2="622.5" y2="219.5"/>
<line x1="66.5" y1="219.5" x2="66.5" y2="264.5"/>
<line x1="622.5" y1="264.5" x2="622.5" y2="309.5"/>
<line x1="66.5" y1="309.5" x2="66.5" y2="354.5"/>
<line x1="622.5" y1="354.5" x2="622.5" y2="399.0"/>
<line x1="66.5" y1="399.0" x2="66.5" y2="443.5"/>
<line x1="622.5" y1="443.5" x2="622.5" y2="479.5"/>
<line x1="66.5" y1="479.5" x2="66.5" y2="509.5"/>
</g>
<line x1="63.5" y1="515.5" x2="63.5" y2="57.5" stroke="#000" stroke-opacity="0.3" stroke-width="1" stroke-dasharray="6.2,5.8" stroke-dashoffset="-0.2"/>
<g stroke="#000" stroke-width="2" fill="none">
<line x1="64" y1="51.3" x2="64" y2="57.2"/>
<line x1="64" y1="515.3" x2="64" y2="520.8"/>
<line x1="172" y1="51.3" x2="172" y2="57.2"/>
<line x1="172" y1="515.3" x2="172" y2="520.8"/>
<line x1="280" y1="51.3" x2="280" y2="57.2"/>
<line x1="280" y1="515.3" x2="280" y2="520.8"/>
<line x1="388" y1="51.3" x2="388" y2="57.2"/>
<line x1="388" y1="515.3" x2="388" y2="520.8"/>
<line x1="496" y1="51.3" x2="496" y2="57.2"/>
<line x1="496" y1="515.3" x2="496" y2="520.8"/>
<line x1="604" y1="51.3" x2="604" y2="57.2"/>
<line x1="604" y1="515.3" x2="604" y2="520.8"/>
<line x1="58" y1="84" x2="63.3" y2="84"/>
<line x1="625.9" y1="84" x2="631.1" y2="84"/>
<line x1="58" y1="174" x2="63.3" y2="174"/>
<line x1="625.9" y1="174" x2="631.1" y2="174"/>
<line x1="58" y1="264" x2="63.3" y2="264"/>
<line x1="625.9" y1="264" x2="631.1" y2="264"/>
<line x1="58" y1="354" x2="63.3" y2="354"/>
<line x1="625.9" y1="354" x2="631.1" y2="354"/>
<line x1="58" y1="443" x2="63.3" y2="443"/>
<line x1="625.9" y1="443" x2="631.1" y2="443"/>
</g>
<text x="347.2" y="23.5" font-size="20.25" text-anchor="middle" id="t1">MNTY Totals 25hr mean: From 01−Feb−2011 15:00</text>
<text x="344.9" y="46.5" font-size="20.2" letter-spacing="-0.07" text-anchor="middle" id="t2">to 02−Feb−2011 15:00 GMT+0.000</text>
<text x="12.3" y="91.7" font-size="17.3" id="l37">37<tspan font-size="13.6" dy="-8.6">o</tspan><tspan dy="8.6">N</tspan></text>
<text x="56.3" y="179.7" font-size="14" text-anchor="end">50’</text>
<text x="56.3" y="269.7" font-size="14" text-anchor="end">40’</text>
<text x="56.3" y="359.7" font-size="14" text-anchor="end">30’</text>
<text x="56.3" y="448.7" font-size="14" text-anchor="end">20’</text>
<text x="37" y="541.6" font-size="17.3" id="l123">123<tspan font-size="13.6" dy="-8.6">o</tspan><tspan dy="8.6">W</tspan></text>
<text x="469.2" y="541.6" font-size="17.3" id="l122">122<tspan font-size="13.6" dy="-8.6">o</tspan><tspan dy="8.6">W</tspan></text>
<text x="171.8" y="533.6" font-size="14" text-anchor="middle">45’</text>
<text x="279.8" y="533.6" font-size="14" text-anchor="middle">30’</text>
<text x="388.8" y="533.6" font-size="14" text-anchor="middle">15’</text>
<text x="604.8" y="533.6" font-size="14" text-anchor="middle">45’</text>
<rect x="640.5" y="457.38" width="20.0" height="57.42" fill="#0000ff"/>
<rect x="640.5" y="400.25" width="20.0" height="57.42" fill="#0080ff"/>
<rect x="640.5" y="343.12" width="20.0" height="57.42" fill="#00ffff"/>
<rect x="640.5" y="286.00" width="20.0" height="57.42" fill="#80ff80"/>
<rect x="640.5" y="228.88" width="20.0" height="57.42" fill="#ffff00"/>
<rect x="640.5" y="171.75" width="20.0" height="57.42" fill="#ff8000"/>
<rect x="640.5" y="114.62" width="20.0" height="57.42" fill="#ff0000"/>
<rect x="640.5" y="57.50" width="20.0" height="57.42" fill="#800000"/>
<rect x="640.5" y="57.5" width="20.0" height="457.0" fill="none" stroke="#222" stroke-width="1"/>
<text x="663.6" y="519.2" font-size="14" font-weight="bold">0</text>
<text x="663.6" y="462.1" font-size="14" font-weight="bold">10</text>
<text x="663.6" y="404.9" font-size="14" font-weight="bold">20</text>
<text x="663.6" y="347.8" font-size="14" font-weight="bold">30</text>
<text x="663.6" y="290.7" font-size="14" font-weight="bold">40</text>
<text x="663.6" y="233.6" font-size="14" font-weight="bold">50</text>
<text x="663.6" y="176.4" font-size="14" font-weight="bold">60</text>
<text x="663.6" y="119.3" font-size="14" font-weight="bold">70</text>
<text x="663.6" y="62.2" font-size="14" font-weight="bold">80</text>
<text x="636.5" y="528.5" font-size="13.3">cm/s</text>
<text transform="translate(694.0,285.1) rotate(-90)" font-size="13.95" text-anchor="middle" id="note">NOTE: Data outside color range will be saturated.</text>
</svg></body></html>
